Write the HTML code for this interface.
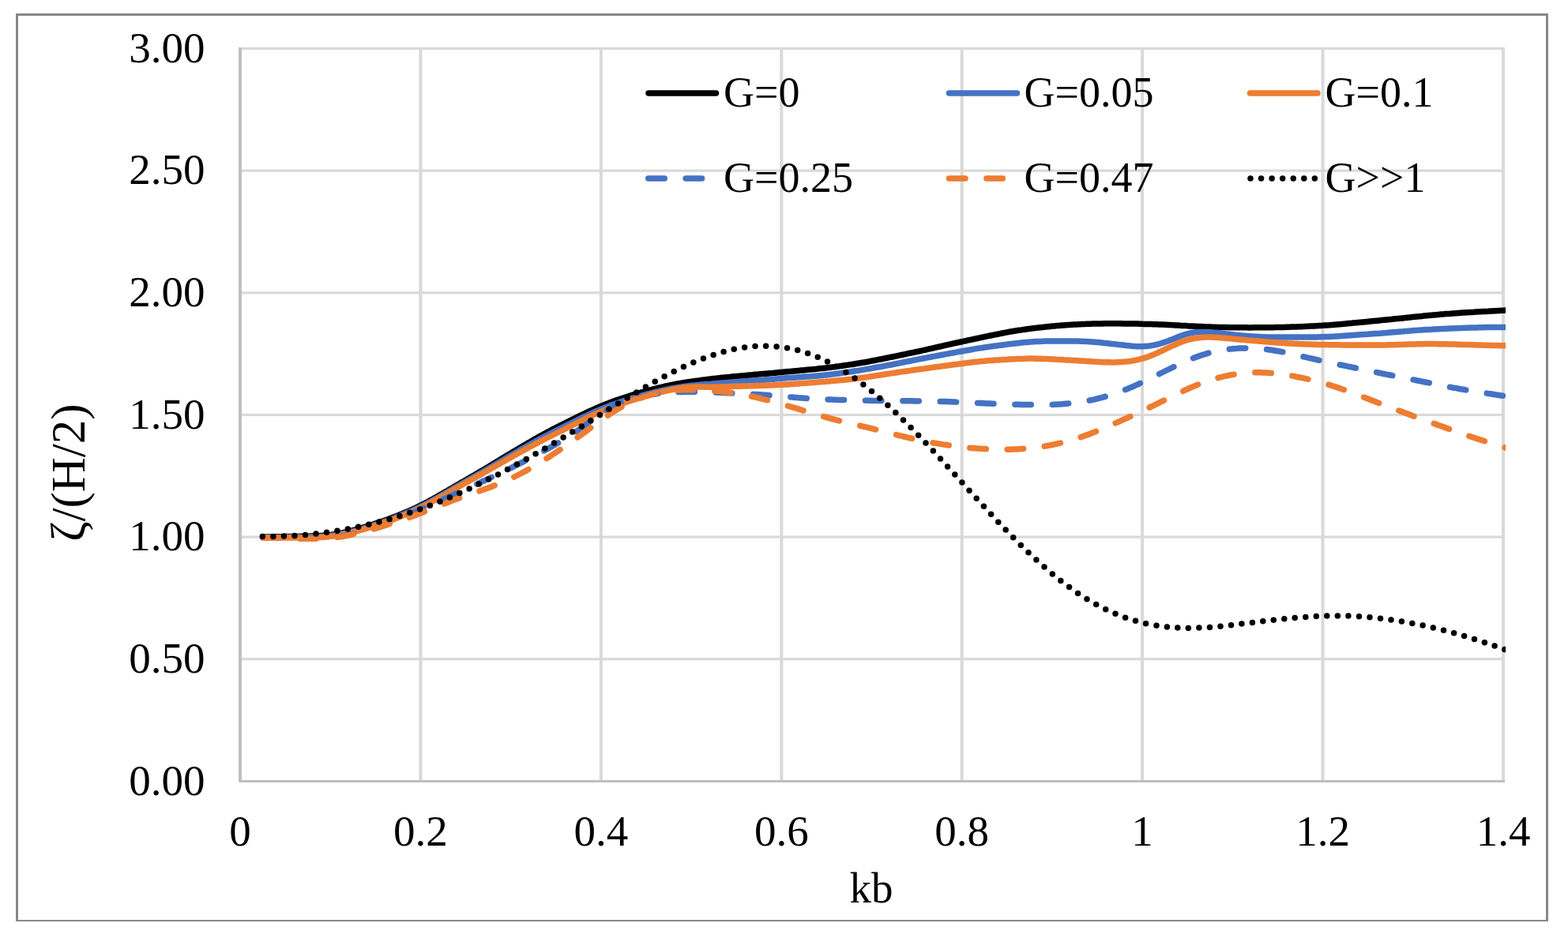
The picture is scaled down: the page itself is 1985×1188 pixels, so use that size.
<!DOCTYPE html>
<html><head><meta charset="utf-8"><title>chart</title>
<style>
html,body{margin:0;padding:0;background:#fff;}
body{width:1985px;height:1188px;overflow:hidden;position:relative;}
.frame{position:absolute;left:20px;top:17px;width:1934px;height:1145px;border:3px solid #888;border-bottom-width:2px;}
svg{position:absolute;left:0;top:0;}
text{font-family:"Liberation Serif","Times New Roman",serif;font-size:55px;fill:#000;}
.lg{font-size:54px;}
</style></head><body>
<div class="frame"></div>
<svg width="1985" height="1188" viewBox="0 0 1985 1188">
<rect x="530.43" y="60.00" width="4" height="929.40" fill="#d9d9d9"/>
<rect x="758.86" y="60.00" width="4" height="929.40" fill="#d9d9d9"/>
<rect x="987.29" y="60.00" width="4" height="929.40" fill="#d9d9d9"/>
<rect x="1215.71" y="60.00" width="4" height="929.40" fill="#d9d9d9"/>
<rect x="1444.14" y="60.00" width="4" height="929.40" fill="#d9d9d9"/>
<rect x="1672.57" y="60.00" width="4" height="929.40" fill="#d9d9d9"/>
<rect x="1901.00" y="60.00" width="4" height="929.40" fill="#d9d9d9"/>
<rect x="304.00" y="833.15" width="1601.00" height="3.2" fill="#d9d9d9"/>
<rect x="304.00" y="678.50" width="1601.00" height="3.2" fill="#d9d9d9"/>
<rect x="304.00" y="523.85" width="1601.00" height="3.2" fill="#d9d9d9"/>
<rect x="304.00" y="369.20" width="1601.00" height="3.2" fill="#d9d9d9"/>
<rect x="304.00" y="214.55" width="1601.00" height="3.2" fill="#d9d9d9"/>
<rect x="304.00" y="59.90" width="1601.00" height="3.2" fill="#d9d9d9"/>
<rect x="302" y="60.00" width="4" height="930.40" fill="#bfbfbf"/>
<rect x="303" y="988" width="1602.00" height="3" fill="#bfbfbf"/>
<text x="259.5" y="1006.5" text-anchor="end">0.00</text>
<text x="259.5" y="851.9" text-anchor="end">0.50</text>
<text x="259.5" y="697.2" text-anchor="end">1.00</text>
<text x="259.5" y="542.6" text-anchor="end">1.50</text>
<text x="259.5" y="387.9" text-anchor="end">2.00</text>
<text x="259.5" y="233.2" text-anchor="end">2.50</text>
<text x="259.5" y="78.6" text-anchor="end">3.00</text>
<text x="304.0" y="1070.5" text-anchor="middle">0</text>
<text x="532.4" y="1070.5" text-anchor="middle">0.2</text>
<text x="760.9" y="1070.5" text-anchor="middle">0.4</text>
<text x="989.3" y="1070.5" text-anchor="middle">0.6</text>
<text x="1217.7" y="1070.5" text-anchor="middle">0.8</text>
<text x="1446.1" y="1070.5" text-anchor="middle">1</text>
<text x="1674.6" y="1070.5" text-anchor="middle">1.2</text>
<text x="1903.0" y="1070.5" text-anchor="middle">1.4</text>
<text x="1103" y="1143" text-anchor="middle">kb</text>
<text transform="translate(106.5,598.6) rotate(-90)" text-anchor="middle" style="font-size:61px">ζ/(H/2)</text>
<line x1="821" y1="118" x2="906.5" y2="118" stroke="#000" stroke-width="7.5" stroke-linecap="round"/>
<line x1="1201.5" y1="118" x2="1287.5" y2="118" stroke="#4472c4" stroke-width="7.5" stroke-linecap="round"/>
<line x1="1582.5" y1="118" x2="1668" y2="118" stroke="#ed7d31" stroke-width="7.5" stroke-linecap="round"/>
<line x1="820.75" y1="226" x2="890" y2="226" stroke="#4472c4" stroke-width="7.5" stroke-linecap="round" stroke-dasharray="20.5 26.88"/>
<line x1="1201.5" y1="226" x2="1271" y2="226" stroke="#ed7d31" stroke-width="7.5" stroke-linecap="round" stroke-dasharray="20.5 26.88"/>
<line x1="1583" y1="226" x2="1665" y2="226" stroke="#000" stroke-width="7.5" stroke-linecap="round" stroke-dasharray="0.01 13.55"/>
<text class="lg" x="916" y="135">G=0</text>
<text class="lg" x="1296.5" y="135">G=0.05</text>
<text class="lg" x="1677.5" y="135">G=0.1</text>
<text class="lg" x="916" y="243">G=0.25</text>
<text class="lg" x="1296.5" y="243">G=0.47</text>
<text class="lg" x="1677.5" y="243">G&gt;&gt;1</text>
<defs><clipPath id="pc"><rect x="290" y="40" width="1616" height="960"/></clipPath></defs><g clip-path="url(#pc)">
<path d="M332.9,680.0 C333.4,680.0 334.9,680.0 335.9,680.0 C336.9,679.9 337.9,679.9 338.9,679.9 C339.9,679.9 340.9,679.9 341.9,679.9 C342.9,679.9 343.9,679.9 344.9,679.8 C345.9,679.8 346.9,679.8 347.9,679.8 C348.9,679.8 349.9,679.8 350.9,679.8 C351.9,679.7 352.9,679.7 353.9,679.7 C354.9,679.7 355.9,679.7 356.9,679.7 C357.9,679.7 358.9,679.6 359.9,679.6 C360.9,679.6 361.9,679.6 362.9,679.6 C363.9,679.6 364.9,679.6 365.9,679.5 C366.9,679.5 367.9,679.5 368.9,679.5 C369.9,679.5 370.9,679.5 371.9,679.5 C372.9,679.4 373.9,679.4 374.9,679.4 C375.9,679.4 376.9,679.4 377.9,679.4 C378.9,679.4 379.9,679.3 380.9,679.3 C381.9,679.3 382.9,679.3 383.9,679.3 C384.9,679.3 385.9,679.2 386.9,679.2 C387.9,679.2 388.9,679.2 389.9,679.2 C390.9,679.1 391.9,679.1 392.9,679.1 C393.9,679.1 394.9,679.0 395.9,679.0 C396.9,679.0 397.9,678.9 398.9,678.9 C399.9,678.8 400.9,678.8 401.9,678.7 C402.9,678.7 403.9,678.6 404.9,678.6 C405.9,678.5 406.9,678.5 407.9,678.4 C408.9,678.3 409.9,678.2 410.9,678.1 C411.9,678.1 412.9,678.0 413.9,677.9 C414.9,677.8 415.9,677.7 416.9,677.6 C417.9,677.4 418.9,677.3 419.9,677.2 C420.9,677.0 421.9,676.9 422.9,676.8 C423.9,676.6 424.9,676.4 425.9,676.3 C426.9,676.1 427.9,675.9 428.9,675.8 C429.9,675.6 430.9,675.4 431.9,675.2 C432.9,675.0 433.9,674.8 434.9,674.5 C435.9,674.3 436.9,674.1 437.9,673.9 C438.9,673.6 439.9,673.4 440.9,673.1 C441.9,672.9 442.9,672.7 443.9,672.4 C444.9,672.2 445.9,671.9 446.9,671.6 C447.9,671.4 448.9,671.1 449.9,670.8 C450.9,670.6 451.9,670.3 452.9,670.0 C453.9,669.7 454.9,669.5 455.9,669.2 C456.9,668.9 457.9,668.6 458.9,668.3 C459.9,668.0 460.9,667.7 461.9,667.4 C462.9,667.1 463.9,666.8 464.9,666.5 C465.9,666.2 466.9,665.9 467.9,665.6 C468.9,665.3 469.9,665.0 470.9,664.6 C471.9,664.3 472.9,664.0 473.9,663.7 C474.9,663.3 475.9,663.0 476.9,662.7 C477.9,662.3 478.9,662.0 479.9,661.7 C480.9,661.3 481.9,661.0 482.9,660.6 C483.9,660.3 484.9,659.9 485.9,659.6 C486.9,659.2 487.9,658.9 488.9,658.5 C489.9,658.1 490.9,657.8 491.9,657.4 C492.9,657.0 493.9,656.7 494.9,656.3 C495.9,655.9 496.9,655.5 497.9,655.1 C498.9,654.8 499.9,654.4 500.9,654.0 C501.9,653.6 502.9,653.2 503.9,652.8 C504.9,652.4 505.9,652.0 506.9,651.6 C507.9,651.2 508.9,650.8 509.9,650.4 C510.9,650.0 511.9,649.5 512.9,649.1 C513.9,648.7 514.9,648.3 515.9,647.8 C516.9,647.4 517.9,647.0 518.9,646.5 C519.9,646.1 520.9,645.6 521.9,645.2 C522.9,644.7 523.9,644.3 524.9,643.8 C525.9,643.3 526.9,642.8 527.9,642.4 C528.9,641.9 529.9,641.4 530.9,640.9 C531.9,640.4 532.9,639.9 533.9,639.4 C534.9,638.9 535.9,638.4 536.9,637.9 C537.9,637.4 538.9,636.9 539.9,636.3 C540.9,635.8 541.9,635.3 542.9,634.7 C543.9,634.2 544.9,633.6 545.9,633.1 C546.9,632.6 547.9,632.0 548.9,631.4 C549.9,630.9 550.9,630.3 551.9,629.8 C552.9,629.2 553.9,628.6 554.9,628.0 C555.9,627.5 556.9,626.9 557.9,626.3 C558.9,625.7 559.9,625.2 560.9,624.6 C561.9,624.0 562.9,623.4 563.9,622.8 C564.9,622.3 565.9,621.7 566.9,621.1 C567.9,620.5 568.9,619.9 569.9,619.3 C570.9,618.8 571.9,618.2 572.9,617.6 C573.9,617.0 574.9,616.4 575.9,615.9 C576.9,615.3 577.9,614.7 578.9,614.1 C579.9,613.6 580.9,613.0 581.9,612.4 C582.9,611.8 583.9,611.2 584.9,610.7 C585.9,610.1 586.9,609.5 587.9,609.0 C588.9,608.4 589.9,607.8 590.9,607.2 C591.9,606.7 592.9,606.1 593.9,605.5 C594.9,604.9 595.9,604.4 596.9,603.8 C597.9,603.2 598.9,602.6 599.9,602.0 C600.9,601.5 601.9,600.9 602.9,600.3 C603.9,599.7 604.9,599.1 605.9,598.5 C606.9,597.9 607.9,597.4 608.9,596.8 C609.9,596.2 610.9,595.6 611.9,595.0 C612.9,594.4 613.9,593.8 614.9,593.2 C615.9,592.6 616.9,592.0 617.9,591.4 C618.9,590.8 619.9,590.2 620.9,589.5 C621.9,588.9 622.9,588.3 623.9,587.7 C624.9,587.1 625.9,586.5 626.9,585.9 C627.9,585.3 628.9,584.7 629.9,584.1 C630.9,583.5 631.9,582.9 632.9,582.2 C633.9,581.6 634.9,581.0 635.9,580.4 C636.9,579.8 637.9,579.2 638.9,578.6 C639.9,578.0 640.9,577.4 641.9,576.8 C642.9,576.2 643.9,575.6 644.9,575.0 C645.9,574.4 646.9,573.8 647.9,573.2 C648.9,572.6 649.9,572.0 650.9,571.4 C651.9,570.8 652.9,570.2 653.9,569.6 C654.9,569.0 655.9,568.4 656.9,567.8 C657.9,567.2 658.9,566.7 659.9,566.1 C660.9,565.5 661.9,564.9 662.9,564.3 C663.9,563.7 664.9,563.2 665.9,562.6 C666.9,562.0 667.9,561.4 668.9,560.8 C669.9,560.3 670.9,559.7 671.9,559.1 C672.9,558.5 673.9,558.0 674.9,557.4 C675.9,556.8 676.9,556.2 677.9,555.7 C678.9,555.1 679.9,554.5 680.9,554.0 C681.9,553.4 682.9,552.9 683.9,552.3 C684.9,551.7 685.9,551.2 686.9,550.6 C687.9,550.1 688.9,549.5 689.9,549.0 C690.9,548.5 691.9,547.9 692.9,547.4 C693.9,546.8 694.9,546.3 695.9,545.8 C696.9,545.3 697.9,544.7 698.9,544.2 C699.9,543.7 700.9,543.2 701.9,542.7 C702.9,542.1 703.9,541.6 704.9,541.1 C705.9,540.6 706.9,540.1 707.9,539.6 C708.9,539.1 709.9,538.6 710.9,538.1 C711.9,537.6 712.9,537.1 713.9,536.6 C714.9,536.1 715.9,535.6 716.9,535.1 C717.9,534.6 718.9,534.1 719.9,533.6 C720.9,533.1 721.9,532.6 722.9,532.1 C723.9,531.6 724.9,531.1 725.9,530.6 C726.9,530.1 727.9,529.6 728.9,529.1 C729.9,528.6 730.9,528.1 731.9,527.7 C732.9,527.2 733.9,526.7 734.9,526.2 C735.9,525.7 736.9,525.3 737.9,524.8 C738.9,524.3 739.9,523.8 740.9,523.4 C741.9,522.9 742.9,522.4 743.9,522.0 C744.9,521.5 745.9,521.0 746.9,520.6 C747.9,520.1 748.9,519.7 749.9,519.2 C750.9,518.8 751.9,518.3 752.9,517.9 C753.9,517.4 754.9,517.0 755.9,516.6 C756.9,516.1 757.9,515.7 758.9,515.3 C759.9,514.9 760.9,514.4 761.9,514.0 C762.9,513.6 763.9,513.2 764.9,512.8 C765.9,512.4 766.9,512.0 767.9,511.6 C768.9,511.2 769.9,510.8 770.9,510.4 C771.9,510.0 772.9,509.7 773.9,509.3 C774.9,508.9 775.9,508.5 776.9,508.2 C777.9,507.8 778.9,507.5 779.9,507.1 C780.9,506.7 781.9,506.4 782.9,506.1 C783.9,505.7 784.9,505.4 785.9,505.0 C786.9,504.7 787.9,504.3 788.9,504.0 C789.9,503.7 790.9,503.4 791.9,503.0 C792.9,502.7 793.9,502.4 794.9,502.1 C795.9,501.8 796.9,501.5 797.9,501.1 C798.9,500.8 799.9,500.5 800.9,500.2 C801.9,499.9 802.9,499.6 803.9,499.3 C804.9,499.0 805.9,498.7 806.9,498.4 C807.9,498.2 808.9,497.9 809.9,497.6 C810.9,497.3 811.9,497.0 812.9,496.7 C813.9,496.4 814.9,496.2 815.9,495.9 C816.9,495.6 817.9,495.3 818.9,495.0 C819.9,494.8 820.9,494.5 821.9,494.2 C822.9,494.0 823.9,493.7 824.9,493.4 C825.9,493.2 826.9,492.9 827.9,492.6 C828.9,492.4 829.9,492.1 830.9,491.9 C831.9,491.6 832.9,491.4 833.9,491.1 C834.9,490.9 835.9,490.6 836.9,490.4 C837.9,490.2 838.9,489.9 839.9,489.7 C840.9,489.5 841.9,489.2 842.9,489.0 C843.9,488.8 844.9,488.6 845.9,488.4 C846.9,488.1 847.9,487.9 848.9,487.7 C849.9,487.5 850.9,487.3 851.9,487.1 C852.9,486.9 853.9,486.7 854.9,486.6 C855.9,486.4 856.9,486.2 857.9,486.0 C858.9,485.8 859.9,485.7 860.9,485.5 C861.9,485.3 862.9,485.2 863.9,485.0 C864.9,484.8 865.9,484.7 866.9,484.5 C867.9,484.4 868.9,484.2 869.9,484.0 C870.9,483.9 871.9,483.7 872.9,483.6 C873.9,483.4 874.9,483.3 875.9,483.1 C876.9,483.0 877.9,482.9 878.9,482.7 C879.9,482.6 880.9,482.4 881.9,482.3 C882.9,482.2 883.9,482.0 884.9,481.9 C885.9,481.7 886.9,481.6 887.9,481.5 C888.9,481.3 889.9,481.2 890.9,481.1 C891.9,480.9 892.9,480.8 893.9,480.7 C894.9,480.6 895.9,480.4 896.9,480.3 C897.9,480.2 898.9,480.1 899.9,479.9 C900.9,479.8 901.9,479.7 902.9,479.6 C903.9,479.5 904.9,479.4 905.9,479.2 C906.9,479.1 907.9,479.0 908.9,478.9 C909.9,478.8 910.9,478.7 911.9,478.6 C912.9,478.5 913.9,478.4 914.9,478.3 C915.9,478.2 916.9,478.1 917.9,478.0 C918.9,477.9 919.9,477.8 920.9,477.7 C921.9,477.6 922.9,477.5 923.9,477.4 C924.9,477.3 925.9,477.2 926.9,477.1 C927.9,477.0 928.9,476.9 929.9,476.8 C930.9,476.7 931.9,476.6 932.9,476.5 C933.9,476.4 934.9,476.4 935.9,476.3 C936.9,476.2 937.9,476.1 938.9,476.0 C939.9,475.9 940.9,475.8 941.9,475.7 C942.9,475.6 943.9,475.5 944.9,475.4 C945.9,475.3 946.9,475.2 947.9,475.1 C948.9,475.0 949.9,475.0 950.9,474.9 C951.9,474.8 952.9,474.7 953.9,474.6 C954.9,474.5 955.9,474.4 956.9,474.3 C957.9,474.2 958.9,474.1 959.9,474.1 C960.9,474.0 961.9,473.9 962.9,473.8 C963.9,473.7 964.9,473.6 965.9,473.5 C966.9,473.4 967.9,473.3 968.9,473.2 C969.9,473.2 970.9,473.1 971.9,473.0 C972.9,472.9 973.9,472.8 974.9,472.7 C975.9,472.6 976.9,472.5 977.9,472.5 C978.9,472.4 979.9,472.3 980.9,472.2 C981.9,472.1 982.9,472.0 983.9,471.9 C984.9,471.8 985.9,471.7 986.9,471.6 C987.9,471.6 988.9,471.5 989.9,471.4 C990.9,471.3 991.9,471.2 992.9,471.1 C993.9,471.0 994.9,470.9 995.9,470.8 C996.9,470.7 997.9,470.6 998.9,470.5 C999.9,470.4 1000.9,470.4 1001.9,470.3 C1002.9,470.2 1003.9,470.1 1004.9,470.0 C1005.9,469.9 1006.9,469.8 1007.9,469.7 C1008.9,469.6 1009.9,469.5 1010.9,469.4 C1011.9,469.3 1012.9,469.2 1013.9,469.1 C1014.9,469.0 1015.9,469.0 1016.9,468.9 C1017.9,468.8 1018.9,468.7 1019.9,468.6 C1020.9,468.5 1021.9,468.4 1022.9,468.3 C1023.9,468.2 1024.9,468.1 1025.9,468.0 C1026.9,467.9 1027.9,467.8 1028.9,467.8 C1029.9,467.7 1030.9,467.6 1031.9,467.5 C1032.9,467.4 1033.9,467.3 1034.9,467.1 C1035.9,467.0 1036.9,466.9 1037.9,466.8 C1038.9,466.7 1039.9,466.6 1040.9,466.5 C1041.9,466.4 1042.9,466.3 1043.9,466.2 C1044.9,466.1 1045.9,465.9 1046.9,465.8 C1047.9,465.7 1048.9,465.6 1049.9,465.4 C1050.9,465.3 1051.9,465.2 1052.9,465.1 C1053.9,465.0 1054.9,464.8 1055.9,464.7 C1056.9,464.6 1057.9,464.4 1058.9,464.3 C1059.9,464.1 1060.9,464.0 1061.9,463.9 C1062.9,463.7 1063.9,463.6 1064.9,463.4 C1065.9,463.3 1066.9,463.2 1067.9,463.0 C1068.9,462.9 1069.9,462.7 1070.9,462.6 C1071.9,462.4 1072.9,462.3 1073.9,462.1 C1074.9,462.0 1075.9,461.8 1076.9,461.7 C1077.9,461.5 1078.9,461.4 1079.9,461.2 C1080.9,461.0 1081.9,460.9 1082.9,460.7 C1083.9,460.6 1084.9,460.4 1085.9,460.2 C1086.9,460.1 1087.9,459.9 1088.9,459.7 C1089.9,459.6 1090.9,459.4 1091.9,459.2 C1092.9,459.0 1093.9,458.9 1094.9,458.7 C1095.9,458.5 1096.9,458.3 1097.9,458.2 C1098.9,458.0 1099.9,457.8 1100.9,457.6 C1101.9,457.4 1102.9,457.2 1103.9,457.1 C1104.9,456.9 1105.9,456.7 1106.9,456.5 C1107.9,456.3 1108.9,456.1 1109.9,455.9 C1110.9,455.7 1111.9,455.5 1112.9,455.3 C1113.9,455.1 1114.9,454.9 1115.9,454.7 C1116.9,454.5 1117.9,454.3 1118.9,454.1 C1119.9,453.9 1120.9,453.7 1121.9,453.5 C1122.9,453.3 1123.9,453.1 1124.9,452.9 C1125.9,452.7 1126.9,452.5 1127.9,452.3 C1128.9,452.1 1129.9,451.9 1130.9,451.7 C1131.9,451.5 1132.9,451.3 1133.9,451.1 C1134.9,450.9 1135.9,450.7 1136.9,450.5 C1137.9,450.3 1138.9,450.0 1139.9,449.8 C1140.9,449.6 1141.9,449.4 1142.9,449.2 C1143.9,449.0 1144.9,448.8 1145.9,448.6 C1146.9,448.4 1147.9,448.2 1148.9,447.9 C1149.9,447.7 1150.9,447.5 1151.9,447.3 C1152.9,447.1 1153.9,446.9 1154.9,446.7 C1155.9,446.5 1156.9,446.2 1157.9,446.0 C1158.9,445.8 1159.9,445.6 1160.9,445.4 C1161.9,445.2 1162.9,444.9 1163.9,444.7 C1164.9,444.5 1165.9,444.3 1166.9,444.1 C1167.9,443.8 1168.9,443.6 1169.9,443.4 C1170.9,443.2 1171.9,442.9 1172.9,442.7 C1173.9,442.5 1174.9,442.3 1175.9,442.0 C1176.9,441.8 1177.9,441.6 1178.9,441.4 C1179.9,441.1 1180.9,440.9 1181.9,440.7 C1182.9,440.5 1183.9,440.2 1184.9,440.0 C1185.9,439.8 1186.9,439.6 1187.9,439.3 C1188.9,439.1 1189.9,438.9 1190.9,438.7 C1191.9,438.4 1192.9,438.2 1193.9,438.0 C1194.9,437.8 1195.9,437.5 1196.9,437.3 C1197.9,437.1 1198.9,436.9 1199.9,436.6 C1200.9,436.4 1201.9,436.2 1202.9,436.0 C1203.9,435.8 1204.9,435.5 1205.9,435.3 C1206.9,435.1 1207.9,434.9 1208.9,434.6 C1209.9,434.4 1210.9,434.2 1211.9,434.0 C1212.9,433.8 1213.9,433.6 1214.9,433.3 C1215.9,433.1 1216.9,432.9 1217.9,432.7 C1218.9,432.5 1219.9,432.3 1220.9,432.0 C1221.9,431.8 1222.9,431.6 1223.9,431.4 C1224.9,431.2 1225.9,431.0 1226.9,430.7 C1227.9,430.5 1228.9,430.3 1229.9,430.1 C1230.9,429.9 1231.9,429.7 1232.9,429.5 C1233.9,429.2 1234.9,429.0 1235.9,428.8 C1236.9,428.6 1237.9,428.4 1238.9,428.2 C1239.9,428.0 1240.9,427.8 1241.9,427.5 C1242.9,427.3 1243.9,427.1 1244.9,426.9 C1245.9,426.7 1246.9,426.5 1247.9,426.3 C1248.9,426.1 1249.9,425.8 1250.9,425.6 C1251.9,425.4 1252.9,425.2 1253.9,425.0 C1254.9,424.8 1255.9,424.6 1256.9,424.4 C1257.9,424.2 1258.9,424.0 1259.9,423.8 C1260.9,423.6 1261.9,423.4 1262.9,423.2 C1263.9,423.0 1264.9,422.8 1265.9,422.6 C1266.9,422.4 1267.9,422.2 1268.9,422.0 C1269.9,421.8 1270.9,421.6 1271.9,421.4 C1272.9,421.3 1273.9,421.1 1274.9,420.9 C1275.9,420.7 1276.9,420.5 1277.9,420.3 C1278.9,420.2 1279.9,420.0 1280.9,419.8 C1281.9,419.6 1282.9,419.5 1283.9,419.3 C1284.9,419.1 1285.9,419.0 1286.9,418.8 C1287.9,418.7 1288.9,418.5 1289.9,418.3 C1290.9,418.2 1291.9,418.0 1292.9,417.9 C1293.9,417.7 1294.9,417.6 1295.9,417.4 C1296.9,417.3 1297.9,417.1 1298.9,417.0 C1299.9,416.9 1300.9,416.7 1301.9,416.6 C1302.9,416.5 1303.9,416.3 1304.9,416.2 C1305.9,416.0 1306.9,415.9 1307.9,415.8 C1308.9,415.7 1309.9,415.5 1310.9,415.4 C1311.9,415.3 1312.9,415.2 1313.9,415.1 C1314.9,414.9 1315.9,414.8 1316.9,414.7 C1317.9,414.6 1318.9,414.5 1319.9,414.4 C1320.9,414.3 1321.9,414.2 1322.9,414.1 C1323.9,413.9 1324.9,413.8 1325.9,413.7 C1326.9,413.6 1327.9,413.5 1328.9,413.4 C1329.9,413.3 1330.9,413.2 1331.9,413.1 C1332.9,413.1 1333.9,413.0 1334.9,412.9 C1335.9,412.8 1336.9,412.7 1337.9,412.6 C1338.9,412.5 1339.9,412.4 1340.9,412.4 C1341.9,412.3 1342.9,412.2 1343.9,412.1 C1344.9,412.1 1345.9,412.0 1346.9,411.9 C1347.9,411.8 1348.9,411.8 1349.9,411.7 C1350.9,411.6 1351.9,411.6 1352.9,411.5 C1353.9,411.4 1354.9,411.4 1355.9,411.3 C1356.9,411.2 1357.9,411.2 1358.9,411.1 C1359.9,411.1 1360.9,411.0 1361.9,411.0 C1362.9,410.9 1363.9,410.9 1364.9,410.8 C1365.9,410.8 1366.9,410.7 1367.9,410.7 C1368.9,410.6 1369.9,410.6 1370.9,410.5 C1371.9,410.5 1372.9,410.4 1373.9,410.4 C1374.9,410.4 1375.9,410.3 1376.9,410.3 C1377.9,410.3 1378.9,410.2 1379.9,410.2 C1380.9,410.2 1381.9,410.1 1382.9,410.1 C1383.9,410.1 1384.9,410.1 1385.9,410.1 C1386.9,410.0 1387.9,410.0 1388.9,410.0 C1389.9,410.0 1390.9,409.9 1391.9,409.9 C1392.9,409.9 1393.9,409.9 1394.9,409.9 C1395.9,409.9 1396.9,409.9 1397.9,409.8 C1398.9,409.8 1399.9,409.8 1400.9,409.8 C1401.9,409.8 1402.9,409.8 1403.9,409.8 C1404.9,409.8 1405.9,409.8 1406.9,409.8 C1407.9,409.8 1408.9,409.8 1409.9,409.8 C1410.9,409.8 1411.9,409.8 1412.9,409.8 C1413.9,409.8 1414.9,409.8 1415.9,409.8 C1416.9,409.8 1417.9,409.8 1418.9,409.8 C1419.9,409.8 1420.9,409.8 1421.9,409.9 C1422.9,409.9 1423.9,409.9 1424.9,409.9 C1425.9,409.9 1426.9,409.9 1427.9,409.9 C1428.9,409.9 1429.9,410.0 1430.9,410.0 C1431.9,410.0 1432.9,410.0 1433.9,410.0 C1434.9,410.0 1435.9,410.1 1436.9,410.1 C1437.9,410.1 1438.9,410.1 1439.9,410.1 C1440.9,410.2 1441.9,410.2 1442.9,410.2 C1443.9,410.2 1444.9,410.2 1445.9,410.3 C1446.9,410.3 1447.9,410.3 1448.9,410.4 C1449.9,410.4 1450.9,410.4 1451.9,410.4 C1452.9,410.4 1453.9,410.5 1454.9,410.5 C1455.9,410.5 1456.9,410.6 1457.9,410.6 C1458.9,410.6 1459.9,410.7 1460.9,410.7 C1461.9,410.7 1462.9,410.7 1463.9,410.8 C1464.9,410.8 1465.9,410.9 1466.9,410.9 C1467.9,410.9 1468.9,411.0 1469.9,411.0 C1470.9,411.1 1471.9,411.1 1472.9,411.1 C1473.9,411.2 1474.9,411.2 1475.9,411.3 C1476.9,411.3 1477.9,411.4 1478.9,411.4 C1479.9,411.4 1480.9,411.5 1481.9,411.6 C1482.9,411.6 1483.9,411.6 1484.9,411.7 C1485.9,411.8 1486.9,411.8 1487.9,411.9 C1488.9,411.9 1489.9,412.0 1490.9,412.0 C1491.9,412.1 1492.9,412.1 1493.9,412.2 C1494.9,412.2 1495.9,412.3 1496.9,412.4 C1497.9,412.4 1498.9,412.5 1499.9,412.5 C1500.9,412.6 1501.9,412.6 1502.9,412.7 C1503.9,412.7 1504.9,412.8 1505.9,412.9 C1506.9,412.9 1507.9,413.0 1508.9,413.0 C1509.9,413.1 1510.9,413.1 1511.9,413.2 C1512.9,413.2 1513.9,413.3 1514.9,413.3 C1515.9,413.4 1516.9,413.4 1517.9,413.5 C1518.9,413.5 1519.9,413.6 1520.9,413.6 C1521.9,413.7 1522.9,413.7 1523.9,413.8 C1524.9,413.8 1525.9,413.8 1526.9,413.9 C1527.9,413.9 1528.9,413.9 1529.9,414.0 C1530.9,414.0 1531.9,414.1 1532.9,414.1 C1533.9,414.1 1534.9,414.2 1535.9,414.2 C1536.9,414.2 1537.9,414.3 1538.9,414.3 C1539.9,414.3 1540.9,414.3 1541.9,414.4 C1542.9,414.4 1543.9,414.4 1544.9,414.4 C1545.9,414.5 1546.9,414.5 1547.9,414.5 C1548.9,414.5 1549.9,414.5 1550.9,414.6 C1551.9,414.6 1552.9,414.6 1553.9,414.6 C1554.9,414.6 1555.9,414.6 1556.9,414.7 C1557.9,414.7 1558.9,414.7 1559.9,414.7 C1560.9,414.7 1561.9,414.7 1562.9,414.7 C1563.9,414.8 1564.9,414.8 1565.9,414.8 C1566.9,414.8 1567.9,414.8 1568.9,414.8 C1569.9,414.8 1570.9,414.8 1571.9,414.8 C1572.9,414.8 1573.9,414.8 1574.9,414.8 C1575.9,414.8 1576.9,414.8 1577.9,414.8 C1578.9,414.8 1579.9,414.8 1580.9,414.9 C1581.9,414.9 1582.9,414.9 1583.9,414.9 C1584.9,414.8 1585.9,414.8 1586.9,414.8 C1587.9,414.8 1588.9,414.8 1589.9,414.8 C1590.9,414.8 1591.9,414.8 1592.9,414.8 C1593.9,414.8 1594.9,414.8 1595.9,414.8 C1596.9,414.8 1597.9,414.8 1598.9,414.8 C1599.9,414.8 1600.9,414.8 1601.9,414.8 C1602.9,414.8 1603.9,414.7 1604.9,414.7 C1605.9,414.7 1606.9,414.7 1607.9,414.7 C1608.9,414.7 1609.9,414.7 1610.9,414.7 C1611.9,414.7 1612.9,414.6 1613.9,414.6 C1614.9,414.6 1615.9,414.6 1616.9,414.6 C1617.9,414.6 1618.9,414.5 1619.9,414.5 C1620.9,414.5 1621.9,414.5 1622.9,414.5 C1623.9,414.4 1624.9,414.4 1625.9,414.4 C1626.9,414.4 1627.9,414.3 1628.9,414.3 C1629.9,414.3 1630.9,414.3 1631.9,414.2 C1632.9,414.2 1633.9,414.2 1634.9,414.1 C1635.9,414.1 1636.9,414.1 1637.9,414.1 C1638.9,414.0 1639.9,414.0 1640.9,413.9 C1641.9,413.9 1642.9,413.9 1643.9,413.8 C1644.9,413.8 1645.9,413.7 1646.9,413.7 C1647.9,413.7 1648.9,413.6 1649.9,413.6 C1650.9,413.5 1651.9,413.5 1652.9,413.4 C1653.9,413.4 1654.9,413.3 1655.9,413.3 C1656.9,413.3 1657.9,413.2 1658.9,413.1 C1659.9,413.1 1660.9,413.1 1661.9,413.0 C1662.9,412.9 1663.9,412.9 1664.9,412.8 C1665.9,412.8 1666.9,412.7 1667.9,412.7 C1668.9,412.6 1669.9,412.6 1670.9,412.5 C1671.9,412.4 1672.9,412.4 1673.9,412.3 C1674.9,412.2 1675.9,412.2 1676.9,412.1 C1677.9,412.0 1678.9,412.0 1679.9,411.9 C1680.9,411.8 1681.9,411.7 1682.9,411.7 C1683.9,411.6 1684.9,411.5 1685.9,411.4 C1686.9,411.4 1687.9,411.3 1688.9,411.2 C1689.9,411.1 1690.9,411.0 1691.9,410.9 C1692.9,410.9 1693.9,410.8 1694.9,410.7 C1695.9,410.6 1696.9,410.5 1697.9,410.4 C1698.9,410.4 1699.9,410.3 1700.9,410.2 C1701.9,410.1 1702.9,410.0 1703.9,409.9 C1704.9,409.8 1705.9,409.7 1706.9,409.6 C1707.9,409.6 1708.9,409.5 1709.9,409.4 C1710.9,409.3 1711.9,409.2 1712.9,409.1 C1713.9,409.0 1714.9,408.9 1715.9,408.8 C1716.9,408.7 1717.9,408.7 1718.9,408.6 C1719.9,408.5 1720.9,408.4 1721.9,408.3 C1722.9,408.2 1723.9,408.1 1724.9,408.0 C1725.9,407.9 1726.9,407.8 1727.9,407.7 C1728.9,407.6 1729.9,407.5 1730.9,407.4 C1731.9,407.3 1732.9,407.2 1733.9,407.1 C1734.9,407.0 1735.9,406.9 1736.9,406.8 C1737.9,406.7 1738.9,406.6 1739.9,406.5 C1740.9,406.4 1741.9,406.3 1742.9,406.2 C1743.9,406.1 1744.9,406.0 1745.9,405.9 C1746.9,405.8 1747.9,405.7 1748.9,405.6 C1749.9,405.5 1750.9,405.4 1751.9,405.3 C1752.9,405.2 1753.9,405.1 1754.9,405.0 C1755.9,404.9 1756.9,404.8 1757.9,404.7 C1758.9,404.6 1759.9,404.5 1760.9,404.4 C1761.9,404.3 1762.9,404.2 1763.9,404.1 C1764.9,404.0 1765.9,403.9 1766.9,403.8 C1767.9,403.7 1768.9,403.6 1769.9,403.5 C1770.9,403.4 1771.9,403.3 1772.9,403.2 C1773.9,403.1 1774.9,403.0 1775.9,402.9 C1776.9,402.8 1777.9,402.7 1778.9,402.6 C1779.9,402.5 1780.9,402.4 1781.9,402.2 C1782.9,402.1 1783.9,402.0 1784.9,401.9 C1785.9,401.8 1786.9,401.7 1787.9,401.6 C1788.9,401.5 1789.9,401.4 1790.9,401.3 C1791.9,401.2 1792.9,401.1 1793.9,401.0 C1794.9,400.9 1795.9,400.8 1796.9,400.7 C1797.9,400.6 1798.9,400.5 1799.9,400.4 C1800.9,400.3 1801.9,400.2 1802.9,400.1 C1803.9,400.0 1804.9,399.9 1805.9,399.8 C1806.9,399.7 1807.9,399.6 1808.9,399.5 C1809.9,399.4 1810.9,399.3 1811.9,399.2 C1812.9,399.1 1813.9,399.1 1814.9,399.0 C1815.9,398.9 1816.9,398.8 1817.9,398.7 C1818.9,398.6 1819.9,398.5 1820.9,398.4 C1821.9,398.3 1822.9,398.2 1823.9,398.1 C1824.9,398.1 1825.9,398.0 1826.9,397.9 C1827.9,397.8 1828.9,397.7 1829.9,397.6 C1830.9,397.6 1831.9,397.5 1832.9,397.4 C1833.9,397.3 1834.9,397.2 1835.9,397.2 C1836.9,397.1 1837.9,397.0 1838.9,396.9 C1839.9,396.9 1840.9,396.8 1841.9,396.7 C1842.9,396.7 1843.9,396.6 1844.9,396.5 C1845.9,396.4 1846.9,396.4 1847.9,396.3 C1848.9,396.2 1849.9,396.2 1850.9,396.1 C1851.9,396.0 1852.9,396.0 1853.9,395.9 C1854.9,395.8 1855.9,395.8 1856.9,395.7 C1857.9,395.7 1858.9,395.6 1859.9,395.5 C1860.9,395.5 1861.9,395.4 1862.9,395.4 C1863.9,395.3 1864.9,395.2 1865.9,395.2 C1866.9,395.1 1867.9,395.1 1868.9,395.0 C1869.9,395.0 1870.9,394.9 1871.9,394.8 C1872.9,394.8 1873.9,394.7 1874.9,394.7 C1875.9,394.6 1876.9,394.6 1877.9,394.5 C1878.9,394.5 1879.9,394.4 1880.9,394.4 C1881.9,394.3 1882.9,394.2 1883.9,394.2 C1884.9,394.1 1885.9,394.1 1886.9,394.0 C1887.9,394.0 1888.9,393.9 1889.9,393.9 C1890.9,393.8 1891.9,393.8 1892.9,393.7 C1893.9,393.7 1894.9,393.6 1895.9,393.6 C1896.9,393.5 1897.9,393.5 1898.9,393.4 C1899.9,393.4 1900.9,393.3 1901.9,393.3 C1902.9,393.2 1903.9,393.2 1904.9,393.1 C1905.9,393.1 1907.1,393.0 1907.9,393.0 C1908.8,392.9 1909.7,392.9 1910.0,392.9" fill="none" stroke="#000" stroke-width="7.5" stroke-linecap="round" stroke-linejoin="round"/>
<path d="M332.9,680.5 C333.4,680.5 334.9,680.5 335.9,680.5 C336.9,680.5 337.9,680.5 338.9,680.5 C339.9,680.5 340.9,680.5 341.9,680.5 C342.9,680.5 343.9,680.4 344.9,680.4 C345.9,680.4 346.9,680.4 347.9,680.4 C348.9,680.4 349.9,680.4 350.9,680.4 C351.9,680.4 352.9,680.4 353.9,680.4 C354.9,680.4 355.9,680.4 356.9,680.4 C357.9,680.4 358.9,680.4 359.9,680.4 C360.9,680.3 361.9,680.3 362.9,680.3 C363.9,680.3 364.9,680.3 365.9,680.3 C366.9,680.3 367.9,680.3 368.9,680.3 C369.9,680.3 370.9,680.3 371.9,680.3 C372.9,680.3 373.9,680.3 374.9,680.3 C375.9,680.3 376.9,680.2 377.9,680.2 C378.9,680.2 379.9,680.2 380.9,680.2 C381.9,680.2 382.9,680.2 383.9,680.2 C384.9,680.2 385.9,680.2 386.9,680.1 C387.9,680.1 388.9,680.1 389.9,680.1 C390.9,680.1 391.9,680.1 392.9,680.0 C393.9,680.0 394.9,680.0 395.9,680.0 C396.9,679.9 397.9,679.9 398.9,679.9 C399.9,679.8 400.9,679.8 401.9,679.7 C402.9,679.7 403.9,679.6 404.9,679.6 C405.9,679.5 406.9,679.5 407.9,679.4 C408.9,679.3 409.9,679.2 410.9,679.2 C411.9,679.1 412.9,679.0 413.9,678.9 C414.9,678.8 415.9,678.7 416.9,678.6 C417.9,678.5 418.9,678.3 419.9,678.2 C420.9,678.1 421.9,677.9 422.9,677.8 C423.9,677.6 424.9,677.5 425.9,677.3 C426.9,677.1 427.9,677.0 428.9,676.8 C429.9,676.6 430.9,676.4 431.9,676.2 C432.9,676.0 433.9,675.8 434.9,675.6 C435.9,675.4 436.9,675.2 437.9,675.0 C438.9,674.7 439.9,674.5 440.9,674.3 C441.9,674.0 442.9,673.8 443.9,673.6 C444.9,673.3 445.9,673.1 446.9,672.8 C447.9,672.5 448.9,672.3 449.9,672.0 C450.9,671.7 451.9,671.5 452.9,671.2 C453.9,670.9 454.9,670.6 455.9,670.4 C456.9,670.1 457.9,669.8 458.9,669.5 C459.9,669.2 460.9,668.9 461.9,668.6 C462.9,668.3 463.9,668.0 464.9,667.7 C465.9,667.4 466.9,667.1 467.9,666.8 C468.9,666.5 469.9,666.2 470.9,665.9 C471.9,665.5 472.9,665.2 473.9,664.9 C474.9,664.6 475.9,664.2 476.9,663.9 C477.9,663.6 478.9,663.2 479.9,662.9 C480.9,662.6 481.9,662.2 482.9,661.9 C483.9,661.5 484.9,661.2 485.9,660.8 C486.9,660.5 487.9,660.1 488.9,659.8 C489.9,659.4 490.9,659.1 491.9,658.7 C492.9,658.3 493.9,658.0 494.9,657.6 C495.9,657.2 496.9,656.8 497.9,656.5 C498.9,656.1 499.9,655.7 500.9,655.3 C501.9,654.9 502.9,654.5 503.9,654.1 C504.9,653.7 505.9,653.3 506.9,652.9 C507.9,652.5 508.9,652.1 509.9,651.7 C510.9,651.3 511.9,650.9 512.9,650.5 C513.9,650.1 514.9,649.6 515.9,649.2 C516.9,648.8 517.9,648.3 518.9,647.9 C519.9,647.4 520.9,647.0 521.9,646.5 C522.9,646.1 523.9,645.6 524.9,645.2 C525.9,644.7 526.9,644.2 527.9,643.8 C528.9,643.3 529.9,642.8 530.9,642.3 C531.9,641.8 532.9,641.4 533.9,640.9 C534.9,640.4 535.9,639.8 536.9,639.3 C537.9,638.8 538.9,638.3 539.9,637.8 C540.9,637.3 541.9,636.7 542.9,636.2 C543.9,635.7 544.9,635.1 545.9,634.6 C546.9,634.0 547.9,633.5 548.9,632.9 C549.9,632.4 550.9,631.8 551.9,631.3 C552.9,630.7 553.9,630.2 554.9,629.6 C555.9,629.0 556.9,628.5 557.9,627.9 C558.9,627.3 559.9,626.7 560.9,626.2 C561.9,625.6 562.9,625.0 563.9,624.4 C564.9,623.9 565.9,623.3 566.9,622.7 C567.9,622.1 568.9,621.6 569.9,621.0 C570.9,620.4 571.9,619.8 572.9,619.2 C573.9,618.7 574.9,618.1 575.9,617.5 C576.9,617.0 577.9,616.4 578.9,615.8 C579.9,615.2 580.9,614.7 581.9,614.1 C582.9,613.5 583.9,612.9 584.9,612.4 C585.9,611.8 586.9,611.2 587.9,610.7 C588.9,610.1 589.9,609.5 590.9,609.0 C591.9,608.4 592.9,607.9 593.9,607.3 C594.9,606.7 595.9,606.2 596.9,605.6 C597.9,605.0 598.9,604.5 599.9,603.9 C600.9,603.3 601.9,602.8 602.9,602.2 C603.9,601.6 604.9,601.1 605.9,600.5 C606.9,599.9 607.9,599.3 608.9,598.8 C609.9,598.2 610.9,597.6 611.9,597.0 C612.9,596.5 613.9,595.9 614.9,595.3 C615.9,594.7 616.9,594.1 617.9,593.5 C618.9,593.0 619.9,592.4 620.9,591.8 C621.9,591.2 622.9,590.6 623.9,590.0 C624.9,589.4 625.9,588.9 626.9,588.3 C627.9,587.7 628.9,587.1 629.9,586.5 C630.9,585.9 631.9,585.3 632.9,584.7 C633.9,584.1 634.9,583.5 635.9,583.0 C636.9,582.4 637.9,581.8 638.9,581.2 C639.9,580.6 640.9,580.0 641.9,579.4 C642.9,578.8 643.9,578.3 644.9,577.7 C645.9,577.1 646.9,576.5 647.9,575.9 C648.9,575.3 649.9,574.8 650.9,574.2 C651.9,573.6 652.9,573.0 653.9,572.5 C654.9,571.9 655.9,571.3 656.9,570.7 C657.9,570.2 658.9,569.6 659.9,569.0 C660.9,568.4 661.9,567.9 662.9,567.3 C663.9,566.7 664.9,566.2 665.9,565.6 C666.9,565.1 667.9,564.5 668.9,563.9 C669.9,563.4 670.9,562.8 671.9,562.3 C672.9,561.7 673.9,561.1 674.9,560.6 C675.9,560.1 676.9,559.5 677.9,559.0 C678.9,558.4 679.9,557.9 680.9,557.3 C681.9,556.8 682.9,556.2 683.9,555.7 C684.9,555.2 685.9,554.6 686.9,554.1 C687.9,553.6 688.9,553.1 689.9,552.5 C690.9,552.0 691.9,551.5 692.9,551.0 C693.9,550.5 694.9,549.9 695.9,549.4 C696.9,548.9 697.9,548.4 698.9,547.9 C699.9,547.4 700.9,546.9 701.9,546.4 C702.9,545.8 703.9,545.3 704.9,544.8 C705.9,544.3 706.9,543.8 707.9,543.3 C708.9,542.8 709.9,542.3 710.9,541.8 C711.9,541.3 712.9,540.8 713.9,540.3 C714.9,539.8 715.9,539.3 716.9,538.8 C717.9,538.3 718.9,537.8 719.9,537.3 C720.9,536.8 721.9,536.3 722.9,535.8 C723.9,535.3 724.9,534.8 725.9,534.3 C726.9,533.8 727.9,533.3 728.9,532.8 C729.9,532.3 730.9,531.8 731.9,531.3 C732.9,530.8 733.9,530.3 734.9,529.9 C735.9,529.4 736.9,528.9 737.9,528.4 C738.9,527.9 739.9,527.5 740.9,527.0 C741.9,526.5 742.9,526.1 743.9,525.6 C744.9,525.1 745.9,524.7 746.9,524.2 C747.9,523.8 748.9,523.3 749.9,522.9 C750.9,522.4 751.9,522.0 752.9,521.6 C753.9,521.1 754.9,520.7 755.9,520.3 C756.9,519.8 757.9,519.4 758.9,519.0 C759.9,518.6 760.9,518.2 761.9,517.8 C762.9,517.4 763.9,517.0 764.9,516.6 C765.9,516.2 766.9,515.8 767.9,515.4 C768.9,515.0 769.9,514.6 770.9,514.2 C771.9,513.9 772.9,513.5 773.9,513.1 C774.9,512.8 775.9,512.4 776.9,512.0 C777.9,511.7 778.9,511.3 779.9,511.0 C780.9,510.6 781.9,510.3 782.9,509.9 C783.9,509.6 784.9,509.3 785.9,508.9 C786.9,508.6 787.9,508.3 788.9,507.9 C789.9,507.6 790.9,507.3 791.9,507.0 C792.9,506.7 793.9,506.4 794.9,506.1 C795.9,505.7 796.9,505.4 797.9,505.1 C798.9,504.8 799.9,504.5 800.9,504.2 C801.9,503.9 802.9,503.7 803.9,503.4 C804.9,503.1 805.9,502.8 806.9,502.5 C807.9,502.2 808.9,501.9 809.9,501.7 C810.9,501.4 811.9,501.1 812.9,500.9 C813.9,500.6 814.9,500.3 815.9,500.0 C816.9,499.8 817.9,499.5 818.9,499.2 C819.9,499.0 820.9,498.7 821.9,498.5 C822.9,498.2 823.9,498.0 824.9,497.7 C825.9,497.4 826.9,497.2 827.9,496.9 C828.9,496.7 829.9,496.5 830.9,496.2 C831.9,496.0 832.9,495.7 833.9,495.5 C834.9,495.3 835.9,495.0 836.9,494.8 C837.9,494.6 838.9,494.4 839.9,494.1 C840.9,493.9 841.9,493.7 842.9,493.5 C843.9,493.3 844.9,493.1 845.9,492.9 C846.9,492.7 847.9,492.5 848.9,492.3 C849.9,492.1 850.9,491.9 851.9,491.7 C852.9,491.5 853.9,491.4 854.9,491.2 C855.9,491.0 856.9,490.8 857.9,490.7 C858.9,490.5 859.9,490.4 860.9,490.2 C861.9,490.0 862.9,489.9 863.9,489.8 C864.9,489.6 865.9,489.5 866.9,489.3 C867.9,489.2 868.9,489.1 869.9,488.9 C870.9,488.8 871.9,488.7 872.9,488.6 C873.9,488.5 874.9,488.4 875.9,488.3 C876.9,488.2 877.9,488.1 878.9,488.0 C879.9,487.9 880.9,487.8 881.9,487.7 C882.9,487.6 883.9,487.5 884.9,487.4 C885.9,487.3 886.9,487.2 887.9,487.1 C888.9,487.1 889.9,487.0 890.9,486.9 C891.9,486.8 892.9,486.7 893.9,486.6 C894.9,486.6 895.9,486.5 896.9,486.4 C897.9,486.3 898.9,486.2 899.9,486.2 C900.9,486.1 901.9,486.0 902.9,485.9 C903.9,485.8 904.9,485.8 905.9,485.7 C906.9,485.6 907.9,485.5 908.9,485.4 C909.9,485.3 910.9,485.3 911.9,485.2 C912.9,485.1 913.9,485.0 914.9,484.9 C915.9,484.8 916.9,484.8 917.9,484.7 C918.9,484.6 919.9,484.5 920.9,484.5 C921.9,484.4 922.9,484.3 923.9,484.2 C924.9,484.2 925.9,484.1 926.9,484.0 C927.9,483.9 928.9,483.8 929.9,483.8 C930.9,483.7 931.9,483.6 932.9,483.6 C933.9,483.5 934.9,483.4 935.9,483.3 C936.9,483.3 937.9,483.2 938.9,483.1 C939.9,483.0 940.9,483.0 941.9,482.9 C942.9,482.8 943.9,482.8 944.9,482.7 C945.9,482.6 946.9,482.6 947.9,482.5 C948.9,482.4 949.9,482.3 950.9,482.3 C951.9,482.2 952.9,482.1 953.9,482.1 C954.9,482.0 955.9,481.9 956.9,481.8 C957.9,481.8 958.9,481.7 959.9,481.6 C960.9,481.5 961.9,481.5 962.9,481.4 C963.9,481.3 964.9,481.2 965.9,481.2 C966.9,481.1 967.9,481.0 968.9,480.9 C969.9,480.9 970.9,480.8 971.9,480.7 C972.9,480.6 973.9,480.5 974.9,480.5 C975.9,480.4 976.9,480.3 977.9,480.2 C978.9,480.2 979.9,480.1 980.9,480.0 C981.9,479.9 982.9,479.8 983.9,479.8 C984.9,479.7 985.9,479.6 986.9,479.5 C987.9,479.5 988.9,479.4 989.9,479.3 C990.9,479.2 991.9,479.1 992.9,479.1 C993.9,479.0 994.9,478.9 995.9,478.8 C996.9,478.8 997.9,478.7 998.9,478.6 C999.9,478.5 1000.9,478.5 1001.9,478.4 C1002.9,478.3 1003.9,478.3 1004.9,478.2 C1005.9,478.1 1006.9,478.0 1007.9,478.0 C1008.9,477.9 1009.9,477.8 1010.9,477.8 C1011.9,477.7 1012.9,477.6 1013.9,477.5 C1014.9,477.5 1015.9,477.4 1016.9,477.3 C1017.9,477.2 1018.9,477.2 1019.9,477.1 C1020.9,477.0 1021.9,477.0 1022.9,476.9 C1023.9,476.8 1024.9,476.7 1025.9,476.7 C1026.9,476.6 1027.9,476.5 1028.9,476.4 C1029.9,476.4 1030.9,476.3 1031.9,476.2 C1032.9,476.1 1033.9,476.0 1034.9,475.9 C1035.9,475.8 1036.9,475.8 1037.9,475.7 C1038.9,475.6 1039.9,475.5 1040.9,475.4 C1041.9,475.3 1042.9,475.2 1043.9,475.1 C1044.9,475.0 1045.9,474.9 1046.9,474.7 C1047.9,474.6 1048.9,474.5 1049.9,474.4 C1050.9,474.3 1051.9,474.2 1052.9,474.0 C1053.9,473.9 1054.9,473.8 1055.9,473.7 C1056.9,473.5 1057.9,473.4 1058.9,473.3 C1059.9,473.2 1060.9,473.0 1061.9,472.9 C1062.9,472.8 1063.9,472.6 1064.9,472.5 C1065.9,472.3 1066.9,472.2 1067.9,472.1 C1068.9,471.9 1069.9,471.8 1070.9,471.6 C1071.9,471.5 1072.9,471.3 1073.9,471.2 C1074.9,471.1 1075.9,470.9 1076.9,470.8 C1077.9,470.6 1078.9,470.4 1079.9,470.3 C1080.9,470.1 1081.9,470.0 1082.9,469.8 C1083.9,469.7 1084.9,469.5 1085.9,469.4 C1086.9,469.2 1087.9,469.0 1088.9,468.9 C1089.9,468.7 1090.9,468.6 1091.9,468.4 C1092.9,468.2 1093.9,468.1 1094.9,467.9 C1095.9,467.7 1096.9,467.6 1097.9,467.4 C1098.9,467.2 1099.9,467.1 1100.9,466.9 C1101.9,466.7 1102.9,466.5 1103.9,466.4 C1104.9,466.2 1105.9,466.0 1106.9,465.8 C1107.9,465.7 1108.9,465.5 1109.9,465.3 C1110.9,465.1 1111.9,464.9 1112.9,464.8 C1113.9,464.6 1114.9,464.4 1115.9,464.2 C1116.9,464.0 1117.9,463.9 1118.9,463.7 C1119.9,463.5 1120.9,463.3 1121.9,463.1 C1122.9,462.9 1123.9,462.7 1124.9,462.5 C1125.9,462.3 1126.9,462.2 1127.9,462.0 C1128.9,461.8 1129.9,461.6 1130.9,461.4 C1131.9,461.2 1132.9,461.0 1133.9,460.8 C1134.9,460.6 1135.9,460.4 1136.9,460.2 C1137.9,460.0 1138.9,459.8 1139.9,459.6 C1140.9,459.4 1141.9,459.2 1142.9,459.0 C1143.9,458.8 1144.9,458.6 1145.9,458.4 C1146.9,458.2 1147.9,458.0 1148.9,457.8 C1149.9,457.6 1150.9,457.4 1151.9,457.2 C1152.9,457.0 1153.9,456.8 1154.9,456.6 C1155.9,456.4 1156.9,456.2 1157.9,456.0 C1158.9,455.8 1159.9,455.6 1160.9,455.4 C1161.9,455.2 1162.9,455.0 1163.9,454.8 C1164.9,454.6 1165.9,454.5 1166.9,454.3 C1167.9,454.1 1168.9,453.9 1169.9,453.7 C1170.9,453.5 1171.9,453.3 1172.9,453.1 C1173.9,452.9 1174.9,452.7 1175.9,452.6 C1176.9,452.4 1177.9,452.2 1178.9,452.0 C1179.9,451.8 1180.9,451.6 1181.9,451.4 C1182.9,451.2 1183.9,451.1 1184.9,450.9 C1185.9,450.7 1186.9,450.5 1187.9,450.3 C1188.9,450.1 1189.9,449.9 1190.9,449.8 C1191.9,449.6 1192.9,449.4 1193.9,449.2 C1194.9,449.0 1195.9,448.8 1196.9,448.6 C1197.9,448.5 1198.9,448.3 1199.9,448.1 C1200.9,447.9 1201.9,447.7 1202.9,447.5 C1203.9,447.4 1204.9,447.2 1205.9,447.0 C1206.9,446.8 1207.9,446.6 1208.9,446.4 C1209.9,446.2 1210.9,446.1 1211.9,445.9 C1212.9,445.7 1213.9,445.5 1214.9,445.3 C1215.9,445.1 1216.9,445.0 1217.9,444.8 C1218.9,444.6 1219.9,444.4 1220.9,444.2 C1221.9,444.1 1222.9,443.9 1223.9,443.7 C1224.9,443.5 1225.9,443.4 1226.9,443.2 C1227.9,443.0 1228.9,442.8 1229.9,442.7 C1230.9,442.5 1231.9,442.3 1232.9,442.1 C1233.9,442.0 1234.9,441.8 1235.9,441.6 C1236.9,441.5 1237.9,441.3 1238.9,441.1 C1239.9,441.0 1240.9,440.8 1241.9,440.7 C1242.9,440.5 1243.9,440.4 1244.9,440.2 C1245.9,440.1 1246.9,439.9 1247.9,439.8 C1248.9,439.6 1249.9,439.5 1250.9,439.3 C1251.9,439.2 1252.9,439.0 1253.9,438.9 C1254.9,438.7 1255.9,438.6 1256.9,438.5 C1257.9,438.3 1258.9,438.2 1259.9,438.1 C1260.9,437.9 1261.9,437.8 1262.9,437.7 C1263.9,437.5 1264.9,437.4 1265.9,437.3 C1266.9,437.1 1267.9,437.0 1268.9,436.9 C1269.9,436.8 1270.9,436.6 1271.9,436.5 C1272.9,436.4 1273.9,436.3 1274.9,436.1 C1275.9,436.0 1276.9,435.9 1277.9,435.8 C1278.9,435.7 1279.9,435.5 1280.9,435.4 C1281.9,435.3 1282.9,435.2 1283.9,435.1 C1284.9,435.0 1285.9,434.9 1286.9,434.7 C1287.9,434.6 1288.9,434.5 1289.9,434.4 C1290.9,434.3 1291.9,434.2 1292.9,434.1 C1293.9,434.0 1294.9,433.9 1295.9,433.8 C1296.9,433.7 1297.9,433.6 1298.9,433.5 C1299.9,433.4 1300.9,433.4 1301.9,433.3 C1302.9,433.2 1303.9,433.1 1304.9,433.0 C1305.9,433.0 1306.9,432.9 1307.9,432.8 C1308.9,432.8 1309.9,432.7 1310.9,432.6 C1311.9,432.6 1312.9,432.5 1313.9,432.5 C1314.9,432.4 1315.9,432.4 1316.9,432.4 C1317.9,432.3 1318.9,432.3 1319.9,432.2 C1320.9,432.2 1321.9,432.2 1322.9,432.1 C1323.9,432.1 1324.9,432.1 1325.9,432.1 C1326.9,432.0 1327.9,432.0 1328.9,432.0 C1329.9,432.0 1330.9,432.0 1331.9,431.9 C1332.9,431.9 1333.9,431.9 1334.9,431.9 C1335.9,431.9 1336.9,431.9 1337.9,431.9 C1338.9,431.9 1339.9,431.9 1340.9,431.9 C1341.9,431.9 1342.9,431.9 1343.9,431.9 C1344.9,431.9 1345.9,431.9 1346.9,431.9 C1347.9,431.9 1348.9,431.9 1349.9,431.9 C1350.9,431.9 1351.9,431.9 1352.9,431.9 C1353.9,431.9 1354.9,431.9 1355.9,431.9 C1356.9,431.9 1357.9,431.9 1358.9,432.0 C1359.9,432.0 1360.9,432.0 1361.9,432.0 C1362.9,432.0 1363.9,432.0 1364.9,432.1 C1365.9,432.1 1366.9,432.1 1367.9,432.2 C1368.9,432.2 1369.9,432.2 1370.9,432.3 C1371.9,432.3 1372.9,432.3 1373.9,432.4 C1374.9,432.4 1375.9,432.5 1376.9,432.6 C1377.9,432.6 1378.9,432.7 1379.9,432.7 C1380.9,432.8 1381.9,432.9 1382.9,432.9 C1383.9,433.0 1384.9,433.1 1385.9,433.2 C1386.9,433.3 1387.9,433.4 1388.9,433.5 C1389.9,433.6 1390.9,433.6 1391.9,433.7 C1392.9,433.8 1393.9,433.9 1394.9,434.0 C1395.9,434.1 1396.9,434.3 1397.9,434.4 C1398.9,434.5 1399.9,434.6 1400.9,434.7 C1401.9,434.8 1402.9,434.9 1403.9,435.0 C1404.9,435.1 1405.9,435.3 1406.9,435.4 C1407.9,435.5 1408.9,435.6 1409.9,435.7 C1410.9,435.8 1411.9,436.0 1412.9,436.1 C1413.9,436.2 1414.9,436.3 1415.9,436.4 C1416.9,436.5 1417.9,436.7 1418.9,436.8 C1419.9,436.9 1420.9,437.0 1421.9,437.1 C1422.9,437.2 1423.9,437.3 1424.9,437.5 C1425.9,437.6 1426.9,437.7 1427.9,437.8 C1428.9,437.9 1429.9,438.0 1430.9,438.1 C1431.9,438.2 1432.9,438.3 1433.9,438.4 C1434.9,438.4 1435.9,438.5 1436.9,438.6 C1437.9,438.6 1438.9,438.7 1439.9,438.7 C1440.9,438.7 1441.9,438.8 1442.9,438.8 C1443.9,438.8 1444.9,438.8 1445.9,438.8 C1446.9,438.7 1447.9,438.7 1448.9,438.6 C1449.9,438.6 1450.9,438.5 1451.9,438.4 C1452.9,438.3 1453.9,438.2 1454.9,438.1 C1455.9,437.9 1456.9,437.8 1457.9,437.6 C1458.9,437.5 1459.9,437.3 1460.9,437.1 C1461.9,436.9 1462.9,436.7 1463.9,436.4 C1464.9,436.2 1465.9,435.9 1466.9,435.7 C1467.9,435.4 1468.9,435.1 1469.9,434.8 C1470.9,434.5 1471.9,434.2 1472.9,433.9 C1473.9,433.6 1474.9,433.2 1475.9,432.9 C1476.9,432.5 1477.9,432.1 1478.9,431.8 C1479.9,431.4 1480.9,431.0 1481.9,430.6 C1482.9,430.2 1483.9,429.8 1484.9,429.4 C1485.9,429.0 1486.9,428.6 1487.9,428.2 C1488.9,427.8 1489.9,427.4 1490.9,427.0 C1491.9,426.6 1492.9,426.2 1493.9,425.8 C1494.9,425.5 1495.9,425.1 1496.9,424.7 C1497.9,424.4 1498.9,424.0 1499.9,423.7 C1500.9,423.4 1501.9,423.1 1502.9,422.9 C1503.9,422.6 1504.9,422.3 1505.9,422.1 C1506.9,421.9 1507.9,421.7 1508.9,421.5 C1509.9,421.3 1510.9,421.2 1511.9,421.1 C1512.9,421.0 1513.9,420.9 1514.9,420.8 C1515.9,420.7 1516.9,420.6 1517.9,420.6 C1518.9,420.6 1519.9,420.5 1520.9,420.5 C1521.9,420.5 1522.9,420.5 1523.9,420.5 C1524.9,420.5 1525.9,420.5 1526.9,420.5 C1527.9,420.6 1528.9,420.6 1529.9,420.7 C1530.9,420.7 1531.9,420.8 1532.9,420.8 C1533.9,420.9 1534.9,421.0 1535.9,421.1 C1536.9,421.1 1537.9,421.2 1538.9,421.3 C1539.9,421.4 1540.9,421.5 1541.9,421.6 C1542.9,421.7 1543.9,421.8 1544.9,421.9 C1545.9,422.1 1546.9,422.2 1547.9,422.3 C1548.9,422.4 1549.9,422.5 1550.9,422.6 C1551.9,422.8 1552.9,422.9 1553.9,423.0 C1554.9,423.1 1555.9,423.3 1556.9,423.4 C1557.9,423.5 1558.9,423.6 1559.9,423.7 C1560.9,423.8 1561.9,424.0 1562.9,424.1 C1563.9,424.2 1564.9,424.3 1565.9,424.4 C1566.9,424.5 1567.9,424.6 1568.9,424.7 C1569.9,424.8 1570.9,424.9 1571.9,425.0 C1572.9,425.1 1573.9,425.1 1574.9,425.2 C1575.9,425.3 1576.9,425.4 1577.9,425.5 C1578.9,425.5 1579.9,425.6 1580.9,425.7 C1581.9,425.8 1582.9,425.8 1583.9,425.9 C1584.9,426.0 1585.9,426.0 1586.9,426.1 C1587.9,426.2 1588.9,426.2 1589.9,426.3 C1590.9,426.3 1591.9,426.4 1592.9,426.4 C1593.9,426.5 1594.9,426.5 1595.9,426.6 C1596.9,426.6 1597.9,426.7 1598.9,426.7 C1599.9,426.7 1600.9,426.8 1601.9,426.8 C1602.9,426.9 1603.9,426.9 1604.9,426.9 C1605.9,426.9 1606.9,427.0 1607.9,427.0 C1608.9,427.0 1609.9,427.0 1610.9,427.0 C1611.9,427.1 1612.9,427.1 1613.9,427.1 C1614.9,427.1 1615.9,427.1 1616.9,427.1 C1617.9,427.1 1618.9,427.1 1619.9,427.1 C1620.9,427.1 1621.9,427.1 1622.9,427.1 C1623.9,427.1 1624.9,427.1 1625.9,427.1 C1626.9,427.1 1627.9,427.1 1628.9,427.1 C1629.9,427.1 1630.9,427.1 1631.9,427.1 C1632.9,427.1 1633.9,427.1 1634.9,427.1 C1635.9,427.1 1636.9,427.1 1637.9,427.1 C1638.9,427.1 1639.9,427.1 1640.9,427.1 C1641.9,427.1 1642.9,427.1 1643.9,427.1 C1644.9,427.0 1645.9,427.0 1646.9,427.0 C1647.9,427.0 1648.9,427.0 1649.9,427.0 C1650.9,427.0 1651.9,427.0 1652.9,427.0 C1653.9,427.0 1654.9,427.0 1655.9,427.0 C1656.9,427.0 1657.9,427.0 1658.9,427.0 C1659.9,427.0 1660.9,427.0 1661.9,427.0 C1662.9,427.0 1663.9,426.9 1664.9,426.9 C1665.9,426.9 1666.9,426.9 1667.9,426.9 C1668.9,426.9 1669.9,426.8 1670.9,426.8 C1671.9,426.8 1672.9,426.8 1673.9,426.7 C1674.9,426.7 1675.9,426.7 1676.9,426.6 C1677.9,426.6 1678.9,426.6 1679.9,426.5 C1680.9,426.5 1681.9,426.4 1682.9,426.4 C1683.9,426.3 1684.9,426.3 1685.9,426.2 C1686.9,426.2 1687.9,426.1 1688.9,426.1 C1689.9,426.0 1690.9,426.0 1691.9,425.9 C1692.9,425.9 1693.9,425.8 1694.9,425.7 C1695.9,425.7 1696.9,425.6 1697.9,425.5 C1698.9,425.5 1699.9,425.4 1700.9,425.3 C1701.9,425.3 1702.9,425.2 1703.9,425.1 C1704.9,425.1 1705.9,425.0 1706.9,424.9 C1707.9,424.8 1708.9,424.8 1709.9,424.7 C1710.9,424.6 1711.9,424.5 1712.9,424.5 C1713.9,424.4 1714.9,424.3 1715.9,424.2 C1716.9,424.2 1717.9,424.1 1718.9,424.0 C1719.9,423.9 1720.9,423.9 1721.9,423.8 C1722.9,423.7 1723.9,423.6 1724.9,423.6 C1725.9,423.5 1726.9,423.4 1727.9,423.4 C1728.9,423.3 1729.9,423.2 1730.9,423.2 C1731.9,423.1 1732.9,423.1 1733.9,423.0 C1734.9,422.9 1735.9,422.9 1736.9,422.8 C1737.9,422.8 1738.9,422.7 1739.9,422.6 C1740.9,422.6 1741.9,422.5 1742.9,422.5 C1743.9,422.4 1744.9,422.3 1745.9,422.3 C1746.9,422.2 1747.9,422.1 1748.9,422.1 C1749.9,422.0 1750.9,421.9 1751.9,421.8 C1752.9,421.7 1753.9,421.6 1754.9,421.6 C1755.9,421.5 1756.9,421.4 1757.9,421.3 C1758.9,421.2 1759.9,421.1 1760.9,421.0 C1761.9,420.9 1762.9,420.8 1763.9,420.7 C1764.9,420.6 1765.9,420.5 1766.9,420.4 C1767.9,420.4 1768.9,420.3 1769.9,420.2 C1770.9,420.1 1771.9,420.0 1772.9,419.9 C1773.9,419.8 1774.9,419.7 1775.9,419.7 C1776.9,419.6 1777.9,419.5 1778.9,419.4 C1779.9,419.3 1780.9,419.2 1781.9,419.2 C1782.9,419.1 1783.9,419.0 1784.9,418.9 C1785.9,418.9 1786.9,418.8 1787.9,418.7 C1788.9,418.6 1789.9,418.6 1790.9,418.5 C1791.9,418.4 1792.9,418.3 1793.9,418.3 C1794.9,418.2 1795.9,418.1 1796.9,418.1 C1797.9,418.0 1798.9,417.9 1799.9,417.9 C1800.9,417.8 1801.9,417.8 1802.9,417.7 C1803.9,417.6 1804.9,417.6 1805.9,417.5 C1806.9,417.5 1807.9,417.4 1808.9,417.4 C1809.9,417.3 1810.9,417.2 1811.9,417.2 C1812.9,417.1 1813.9,417.1 1814.9,417.0 C1815.9,417.0 1816.9,416.9 1817.9,416.9 C1818.9,416.8 1819.9,416.8 1820.9,416.7 C1821.9,416.7 1822.9,416.6 1823.9,416.6 C1824.9,416.5 1825.9,416.5 1826.9,416.4 C1827.9,416.4 1828.9,416.4 1829.9,416.3 C1830.9,416.3 1831.9,416.2 1832.9,416.2 C1833.9,416.1 1834.9,416.1 1835.9,416.0 C1836.9,416.0 1837.9,416.0 1838.9,415.9 C1839.9,415.9 1840.9,415.8 1841.9,415.8 C1842.9,415.7 1843.9,415.7 1844.9,415.7 C1845.9,415.6 1846.9,415.6 1847.9,415.6 C1848.9,415.5 1849.9,415.5 1850.9,415.4 C1851.9,415.4 1852.9,415.4 1853.9,415.3 C1854.9,415.3 1855.9,415.3 1856.9,415.2 C1857.9,415.2 1858.9,415.2 1859.9,415.1 C1860.9,415.1 1861.9,415.1 1862.9,415.0 C1863.9,415.0 1864.9,415.0 1865.9,414.9 C1866.9,414.9 1867.9,414.9 1868.9,414.9 C1869.9,414.8 1870.9,414.8 1871.9,414.8 C1872.9,414.8 1873.9,414.8 1874.9,414.7 C1875.9,414.7 1876.9,414.7 1877.9,414.7 C1878.9,414.7 1879.9,414.7 1880.9,414.6 C1881.9,414.6 1882.9,414.6 1883.9,414.6 C1884.9,414.6 1885.9,414.6 1886.9,414.6 C1887.9,414.5 1888.9,414.5 1889.9,414.5 C1890.9,414.5 1891.9,414.5 1892.9,414.5 C1893.9,414.5 1894.9,414.5 1895.9,414.5 C1896.9,414.5 1897.9,414.4 1898.9,414.4 C1899.9,414.4 1900.9,414.4 1901.9,414.4 C1902.9,414.4 1903.9,414.4 1904.9,414.4 C1905.9,414.4 1907.1,414.4 1907.9,414.4 C1908.8,414.4 1909.7,414.4 1910.0,414.4" fill="none" stroke="#4472c4" stroke-width="7.5" stroke-linecap="round" stroke-linejoin="round"/>
<path d="M332.9,681.0 C333.4,681.0 334.9,681.0 335.9,681.0 C336.9,681.0 337.9,681.0 338.9,681.0 C339.9,681.1 340.9,681.0 341.9,681.0 C342.9,681.0 343.9,681.0 344.9,681.0 C345.9,681.0 346.9,681.0 347.9,681.0 C348.9,681.1 349.9,681.1 350.9,681.1 C351.9,681.1 352.9,681.1 353.9,681.1 C354.9,681.1 355.9,681.1 356.9,681.1 C357.9,681.1 358.9,681.1 359.9,681.1 C360.9,681.1 361.9,681.1 362.9,681.1 C363.9,681.1 364.9,681.1 365.9,681.1 C366.9,681.1 367.9,681.1 368.9,681.1 C369.9,681.1 370.9,681.1 371.9,681.1 C372.9,681.1 373.9,681.1 374.9,681.1 C375.9,681.1 376.9,681.1 377.9,681.1 C378.9,681.1 379.9,681.1 380.9,681.1 C381.9,681.1 382.9,681.1 383.9,681.1 C384.9,681.1 385.9,681.1 386.9,681.1 C387.9,681.1 388.9,681.0 389.9,681.0 C390.9,681.0 391.9,681.0 392.9,681.0 C393.9,681.0 394.9,681.0 395.9,680.9 C396.9,680.9 397.9,680.9 398.9,680.9 C399.9,680.8 400.9,680.8 401.9,680.7 C402.9,680.7 403.9,680.7 404.9,680.6 C405.9,680.5 406.9,680.5 407.9,680.4 C408.9,680.4 409.9,680.3 410.9,680.2 C411.9,680.1 412.9,680.0 413.9,679.9 C414.9,679.8 415.9,679.8 416.9,679.6 C417.9,679.5 418.9,679.4 419.9,679.3 C420.9,679.2 421.9,679.0 422.9,678.9 C423.9,678.7 424.9,678.6 425.9,678.4 C426.9,678.3 427.9,678.1 428.9,677.9 C429.9,677.7 430.9,677.6 431.9,677.4 C432.9,677.2 433.9,677.0 434.9,676.8 C435.9,676.6 436.9,676.3 437.9,676.1 C438.9,675.9 439.9,675.7 440.9,675.5 C441.9,675.2 442.9,675.0 443.9,674.7 C444.9,674.5 445.9,674.2 446.9,674.0 C447.9,673.7 448.9,673.5 449.9,673.2 C450.9,672.9 451.9,672.7 452.9,672.4 C453.9,672.1 454.9,671.9 455.9,671.6 C456.9,671.3 457.9,671.0 458.9,670.7 C459.9,670.5 460.9,670.2 461.9,669.9 C462.9,669.6 463.9,669.3 464.9,669.0 C465.9,668.7 466.9,668.4 467.9,668.1 C468.9,667.8 469.9,667.5 470.9,667.1 C471.9,666.8 472.9,666.5 473.9,666.2 C474.9,665.9 475.9,665.5 476.9,665.2 C477.9,664.9 478.9,664.6 479.9,664.2 C480.9,663.9 481.9,663.6 482.9,663.2 C483.9,662.9 484.9,662.5 485.9,662.2 C486.9,661.8 487.9,661.5 488.9,661.1 C489.9,660.8 490.9,660.4 491.9,660.1 C492.9,659.7 493.9,659.3 494.9,659.0 C495.9,658.6 496.9,658.2 497.9,657.9 C498.9,657.5 499.9,657.1 500.9,656.7 C501.9,656.3 502.9,655.9 503.9,655.5 C504.9,655.2 505.9,654.8 506.9,654.4 C507.9,654.0 508.9,653.6 509.9,653.1 C510.9,652.7 511.9,652.3 512.9,651.9 C513.9,651.5 514.9,651.1 515.9,650.6 C516.9,650.2 517.9,649.8 518.9,649.4 C519.9,648.9 520.9,648.5 521.9,648.0 C522.9,647.6 523.9,647.1 524.9,646.7 C525.9,646.2 526.9,645.7 527.9,645.3 C528.9,644.8 529.9,644.3 530.9,643.8 C531.9,643.3 532.9,642.9 533.9,642.4 C534.9,641.9 535.9,641.4 536.9,640.9 C537.9,640.3 538.9,639.8 539.9,639.3 C540.9,638.8 541.9,638.3 542.9,637.7 C543.9,637.2 544.9,636.7 545.9,636.1 C546.9,635.6 547.9,635.0 548.9,634.5 C549.9,634.0 550.9,633.4 551.9,632.9 C552.9,632.3 553.9,631.7 554.9,631.2 C555.9,630.6 556.9,630.0 557.9,629.5 C558.9,628.9 559.9,628.3 560.9,627.8 C561.9,627.2 562.9,626.6 563.9,626.0 C564.9,625.5 565.9,624.9 566.9,624.3 C567.9,623.8 568.9,623.2 569.9,622.6 C570.9,622.0 571.9,621.5 572.9,620.9 C573.9,620.3 574.9,619.7 575.9,619.2 C576.9,618.6 577.9,618.0 578.9,617.5 C579.9,616.9 580.9,616.3 581.9,615.8 C582.9,615.2 583.9,614.6 584.9,614.1 C585.9,613.5 586.9,613.0 587.9,612.4 C588.9,611.8 589.9,611.3 590.9,610.7 C591.9,610.2 592.9,609.6 593.9,609.1 C594.9,608.5 595.9,608.0 596.9,607.4 C597.9,606.9 598.9,606.3 599.9,605.8 C600.9,605.2 601.9,604.7 602.9,604.1 C603.9,603.6 604.9,603.0 605.9,602.5 C606.9,601.9 607.9,601.4 608.9,600.8 C609.9,600.2 610.9,599.7 611.9,599.1 C612.9,598.6 613.9,598.0 614.9,597.4 C615.9,596.9 616.9,596.3 617.9,595.7 C618.9,595.2 619.9,594.6 620.9,594.0 C621.9,593.5 622.9,592.9 623.9,592.3 C624.9,591.8 625.9,591.2 626.9,590.6 C627.9,590.0 628.9,589.5 629.9,588.9 C630.9,588.3 631.9,587.8 632.9,587.2 C633.9,586.6 634.9,586.0 635.9,585.5 C636.9,584.9 637.9,584.3 638.9,583.8 C639.9,583.2 640.9,582.6 641.9,582.0 C642.9,581.5 643.9,580.9 644.9,580.4 C645.9,579.8 646.9,579.2 647.9,578.7 C648.9,578.1 649.9,577.5 650.9,577.0 C651.9,576.4 652.9,575.9 653.9,575.3 C654.9,574.7 655.9,574.2 656.9,573.6 C657.9,573.1 658.9,572.5 659.9,572.0 C660.9,571.4 661.9,570.9 662.9,570.3 C663.9,569.8 664.9,569.2 665.9,568.7 C666.9,568.1 667.9,567.6 668.9,567.0 C669.9,566.5 670.9,566.0 671.9,565.4 C672.9,564.9 673.9,564.4 674.9,563.8 C675.9,563.3 676.9,562.8 677.9,562.2 C678.9,561.7 679.9,561.2 680.9,560.7 C681.9,560.1 682.9,559.6 683.9,559.1 C684.9,558.6 685.9,558.1 686.9,557.6 C687.9,557.1 688.9,556.5 689.9,556.0 C690.9,555.5 691.9,555.0 692.9,554.5 C693.9,554.0 694.9,553.5 695.9,553.0 C696.9,552.5 697.9,552.0 698.9,551.5 C699.9,551.0 700.9,550.5 701.9,550.0 C702.9,549.5 703.9,549.0 704.9,548.5 C705.9,548.0 706.9,547.5 707.9,547.0 C708.9,546.5 709.9,546.0 710.9,545.5 C711.9,545.0 712.9,544.5 713.9,544.0 C714.9,543.5 715.9,543.0 716.9,542.5 C717.9,542.0 718.9,541.4 719.9,540.9 C720.9,540.4 721.9,539.9 722.9,539.4 C723.9,538.9 724.9,538.4 725.9,537.9 C726.9,537.4 727.9,536.8 728.9,536.3 C729.9,535.8 730.9,535.3 731.9,534.8 C732.9,534.3 733.9,533.8 734.9,533.3 C735.9,532.8 736.9,532.3 737.9,531.8 C738.9,531.4 739.9,530.9 740.9,530.4 C741.9,529.9 742.9,529.4 743.9,528.9 C744.9,528.5 745.9,528.0 746.9,527.5 C747.9,527.1 748.9,526.6 749.9,526.1 C750.9,525.7 751.9,525.2 752.9,524.8 C753.9,524.3 754.9,523.9 755.9,523.4 C756.9,523.0 757.9,522.6 758.9,522.1 C759.9,521.7 760.9,521.3 761.9,520.9 C762.9,520.4 763.9,520.0 764.9,519.6 C765.9,519.2 766.9,518.8 767.9,518.4 C768.9,518.0 769.9,517.6 770.9,517.2 C771.9,516.8 772.9,516.4 773.9,516.0 C774.9,515.6 775.9,515.3 776.9,514.9 C777.9,514.5 778.9,514.1 779.9,513.8 C780.9,513.4 781.9,513.1 782.9,512.7 C783.9,512.3 784.9,512.0 785.9,511.6 C786.9,511.3 787.9,510.9 788.9,510.6 C789.9,510.3 790.9,509.9 791.9,509.6 C792.9,509.3 793.9,509.0 794.9,508.6 C795.9,508.3 796.9,508.0 797.9,507.7 C798.9,507.3 799.9,507.0 800.9,506.7 C801.9,506.4 802.9,506.1 803.9,505.8 C804.9,505.5 805.9,505.2 806.9,504.9 C807.9,504.6 808.9,504.3 809.9,504.0 C810.9,503.7 811.9,503.4 812.9,503.1 C813.9,502.8 814.9,502.5 815.9,502.2 C816.9,502.0 817.9,501.7 818.9,501.4 C819.9,501.1 820.9,500.8 821.9,500.6 C822.9,500.3 823.9,500.0 824.9,499.7 C825.9,499.5 826.9,499.2 827.9,498.9 C828.9,498.7 829.9,498.4 830.9,498.1 C831.9,497.9 832.9,497.6 833.9,497.4 C834.9,497.1 835.9,496.9 836.9,496.6 C837.9,496.4 838.9,496.1 839.9,495.9 C840.9,495.6 841.9,495.4 842.9,495.2 C843.9,494.9 844.9,494.7 845.9,494.5 C846.9,494.3 847.9,494.0 848.9,493.8 C849.9,493.6 850.9,493.4 851.9,493.2 C852.9,493.0 853.9,492.8 854.9,492.6 C855.9,492.4 856.9,492.2 857.9,492.1 C858.9,491.9 859.9,491.7 860.9,491.6 C861.9,491.4 862.9,491.3 863.9,491.1 C864.9,491.0 865.9,490.9 866.9,490.8 C867.9,490.7 868.9,490.6 869.9,490.5 C870.9,490.4 871.9,490.3 872.9,490.3 C873.9,490.2 874.9,490.2 875.9,490.1 C876.9,490.1 877.9,490.1 878.9,490.1 C879.9,490.1 880.9,490.1 881.9,490.1 C882.9,490.0 883.9,490.1 884.9,490.1 C885.9,490.1 886.9,490.1 887.9,490.1 C888.9,490.1 889.9,490.1 890.9,490.1 C891.9,490.1 892.9,490.2 893.9,490.2 C894.9,490.2 895.9,490.2 896.9,490.2 C897.9,490.2 898.9,490.2 899.9,490.2 C900.9,490.2 901.9,490.2 902.9,490.1 C903.9,490.1 904.9,490.1 905.9,490.1 C906.9,490.1 907.9,490.0 908.9,490.0 C909.9,490.0 910.9,490.0 911.9,489.9 C912.9,489.9 913.9,489.9 914.9,489.8 C915.9,489.8 916.9,489.8 917.9,489.7 C918.9,489.7 919.9,489.7 920.9,489.6 C921.9,489.6 922.9,489.6 923.9,489.5 C924.9,489.5 925.9,489.5 926.9,489.4 C927.9,489.4 928.9,489.4 929.9,489.3 C930.9,489.3 931.9,489.3 932.9,489.2 C933.9,489.2 934.9,489.2 935.9,489.2 C936.9,489.1 937.9,489.1 938.9,489.1 C939.9,489.0 940.9,489.0 941.9,489.0 C942.9,489.0 943.9,488.9 944.9,488.9 C945.9,488.9 946.9,488.9 947.9,488.8 C948.9,488.8 949.9,488.8 950.9,488.8 C951.9,488.7 952.9,488.7 953.9,488.7 C954.9,488.7 955.9,488.6 956.9,488.6 C957.9,488.6 958.9,488.5 959.9,488.5 C960.9,488.5 961.9,488.4 962.9,488.4 C963.9,488.4 964.9,488.3 965.9,488.3 C966.9,488.3 967.9,488.2 968.9,488.2 C969.9,488.2 970.9,488.1 971.9,488.1 C972.9,488.1 973.9,488.0 974.9,488.0 C975.9,488.0 976.9,487.9 977.9,487.9 C978.9,487.8 979.9,487.8 980.9,487.7 C981.9,487.7 982.9,487.6 983.9,487.6 C984.9,487.6 985.9,487.5 986.9,487.4 C987.9,487.4 988.9,487.3 989.9,487.3 C990.9,487.2 991.9,487.2 992.9,487.1 C993.9,487.1 994.9,487.0 995.9,486.9 C996.9,486.9 997.9,486.8 998.9,486.7 C999.9,486.7 1000.9,486.6 1001.9,486.5 C1002.9,486.4 1003.9,486.4 1004.9,486.3 C1005.9,486.2 1006.9,486.2 1007.9,486.1 C1008.9,486.0 1009.9,485.9 1010.9,485.9 C1011.9,485.8 1012.9,485.7 1013.9,485.6 C1014.9,485.6 1015.9,485.5 1016.9,485.4 C1017.9,485.3 1018.9,485.3 1019.9,485.2 C1020.9,485.1 1021.9,485.0 1022.9,485.0 C1023.9,484.9 1024.9,484.8 1025.9,484.8 C1026.9,484.7 1027.9,484.6 1028.9,484.5 C1029.9,484.4 1030.9,484.4 1031.9,484.3 C1032.9,484.2 1033.9,484.1 1034.9,484.1 C1035.9,484.0 1036.9,483.9 1037.9,483.8 C1038.9,483.7 1039.9,483.7 1040.9,483.6 C1041.9,483.5 1042.9,483.4 1043.9,483.4 C1044.9,483.3 1045.9,483.2 1046.9,483.1 C1047.9,483.0 1048.9,482.9 1049.9,482.9 C1050.9,482.8 1051.9,482.7 1052.9,482.6 C1053.9,482.5 1054.9,482.4 1055.9,482.3 C1056.9,482.2 1057.9,482.2 1058.9,482.1 C1059.9,482.0 1060.9,481.9 1061.9,481.8 C1062.9,481.7 1063.9,481.6 1064.9,481.5 C1065.9,481.4 1066.9,481.3 1067.9,481.2 C1068.9,481.1 1069.9,481.0 1070.9,480.9 C1071.9,480.8 1072.9,480.7 1073.9,480.6 C1074.9,480.4 1075.9,480.3 1076.9,480.2 C1077.9,480.1 1078.9,480.0 1079.9,479.9 C1080.9,479.8 1081.9,479.6 1082.9,479.5 C1083.9,479.4 1084.9,479.3 1085.9,479.1 C1086.9,479.0 1087.9,478.9 1088.9,478.8 C1089.9,478.6 1090.9,478.5 1091.9,478.3 C1092.9,478.2 1093.9,478.1 1094.9,477.9 C1095.9,477.8 1096.9,477.6 1097.9,477.5 C1098.9,477.3 1099.9,477.2 1100.9,477.1 C1101.9,476.9 1102.9,476.7 1103.9,476.6 C1104.9,476.4 1105.9,476.3 1106.9,476.1 C1107.9,476.0 1108.9,475.8 1109.9,475.6 C1110.9,475.5 1111.9,475.3 1112.9,475.2 C1113.9,475.0 1114.9,474.9 1115.9,474.7 C1116.9,474.6 1117.9,474.4 1118.9,474.2 C1119.9,474.1 1120.9,473.9 1121.9,473.8 C1122.9,473.6 1123.9,473.5 1124.9,473.3 C1125.9,473.2 1126.9,473.0 1127.9,472.9 C1128.9,472.7 1129.9,472.6 1130.9,472.4 C1131.9,472.3 1132.9,472.1 1133.9,472.0 C1134.9,471.8 1135.9,471.7 1136.9,471.5 C1137.9,471.4 1138.9,471.2 1139.9,471.1 C1140.9,470.9 1141.9,470.8 1142.9,470.6 C1143.9,470.5 1144.9,470.4 1145.9,470.2 C1146.9,470.1 1147.9,469.9 1148.9,469.8 C1149.9,469.6 1150.9,469.5 1151.9,469.4 C1152.9,469.2 1153.9,469.1 1154.9,468.9 C1155.9,468.8 1156.9,468.7 1157.9,468.5 C1158.9,468.4 1159.9,468.2 1160.9,468.1 C1161.9,468.0 1162.9,467.8 1163.9,467.7 C1164.9,467.6 1165.9,467.4 1166.9,467.3 C1167.9,467.1 1168.9,467.0 1169.9,466.9 C1170.9,466.7 1171.9,466.6 1172.9,466.4 C1173.9,466.3 1174.9,466.2 1175.9,466.0 C1176.9,465.9 1177.9,465.8 1178.9,465.6 C1179.9,465.5 1180.9,465.3 1181.9,465.2 C1182.9,465.1 1183.9,464.9 1184.9,464.8 C1185.9,464.7 1186.9,464.5 1187.9,464.4 C1188.9,464.3 1189.9,464.1 1190.9,464.0 C1191.9,463.9 1192.9,463.7 1193.9,463.6 C1194.9,463.4 1195.9,463.3 1196.9,463.2 C1197.9,463.0 1198.9,462.9 1199.9,462.8 C1200.9,462.6 1201.9,462.5 1202.9,462.4 C1203.9,462.2 1204.9,462.1 1205.9,462.0 C1206.9,461.8 1207.9,461.7 1208.9,461.6 C1209.9,461.4 1210.9,461.3 1211.9,461.2 C1212.9,461.0 1213.9,460.9 1214.9,460.8 C1215.9,460.6 1216.9,460.5 1217.9,460.4 C1218.9,460.3 1219.9,460.1 1220.9,460.0 C1221.9,459.9 1222.9,459.8 1223.9,459.6 C1224.9,459.5 1225.9,459.4 1226.9,459.3 C1227.9,459.1 1228.9,459.0 1229.9,458.9 C1230.9,458.8 1231.9,458.7 1232.9,458.6 C1233.9,458.5 1234.9,458.4 1235.9,458.3 C1236.9,458.2 1237.9,458.0 1238.9,457.9 C1239.9,457.8 1240.9,457.7 1241.9,457.6 C1242.9,457.5 1243.9,457.5 1244.9,457.4 C1245.9,457.3 1246.9,457.2 1247.9,457.1 C1248.9,457.0 1249.9,456.9 1250.9,456.8 C1251.9,456.7 1252.9,456.7 1253.9,456.6 C1254.9,456.5 1255.9,456.4 1256.9,456.4 C1257.9,456.3 1258.9,456.2 1259.9,456.1 C1260.9,456.1 1261.9,456.0 1262.9,455.9 C1263.9,455.9 1264.9,455.8 1265.9,455.7 C1266.9,455.7 1267.9,455.6 1268.9,455.5 C1269.9,455.5 1270.9,455.4 1271.9,455.4 C1272.9,455.3 1273.9,455.2 1274.9,455.2 C1275.9,455.1 1276.9,455.1 1277.9,455.0 C1278.9,455.0 1279.9,454.9 1280.9,454.9 C1281.9,454.8 1282.9,454.8 1283.9,454.7 C1284.9,454.7 1285.9,454.6 1286.9,454.6 C1287.9,454.5 1288.9,454.5 1289.9,454.5 C1290.9,454.4 1291.9,454.4 1292.9,454.4 C1293.9,454.3 1294.9,454.3 1295.9,454.3 C1296.9,454.2 1297.9,454.2 1298.9,454.2 C1299.9,454.2 1300.9,454.2 1301.9,454.1 C1302.9,454.1 1303.9,454.1 1304.9,454.1 C1305.9,454.1 1306.9,454.1 1307.9,454.1 C1308.9,454.1 1309.9,454.2 1310.9,454.2 C1311.9,454.2 1312.9,454.2 1313.9,454.2 C1314.9,454.3 1315.9,454.3 1316.9,454.3 C1317.9,454.3 1318.9,454.4 1319.9,454.4 C1320.9,454.4 1321.9,454.5 1322.9,454.5 C1323.9,454.6 1324.9,454.6 1325.9,454.6 C1326.9,454.7 1327.9,454.7 1328.9,454.8 C1329.9,454.8 1330.9,454.9 1331.9,454.9 C1332.9,455.0 1333.9,455.0 1334.9,455.1 C1335.9,455.1 1336.9,455.1 1337.9,455.2 C1338.9,455.2 1339.9,455.3 1340.9,455.4 C1341.9,455.4 1342.9,455.5 1343.9,455.5 C1344.9,455.6 1345.9,455.6 1346.9,455.7 C1347.9,455.7 1348.9,455.8 1349.9,455.9 C1350.9,455.9 1351.9,456.0 1352.9,456.0 C1353.9,456.1 1354.9,456.1 1355.9,456.2 C1356.9,456.2 1357.9,456.3 1358.9,456.4 C1359.9,456.4 1360.9,456.5 1361.9,456.6 C1362.9,456.6 1363.9,456.7 1364.9,456.7 C1365.9,456.8 1366.9,456.9 1367.9,456.9 C1368.9,457.0 1369.9,457.1 1370.9,457.1 C1371.9,457.2 1372.9,457.2 1373.9,457.3 C1374.9,457.4 1375.9,457.4 1376.9,457.5 C1377.9,457.6 1378.9,457.6 1379.9,457.7 C1380.9,457.8 1381.9,457.8 1382.9,457.9 C1383.9,458.0 1384.9,458.0 1385.9,458.1 C1386.9,458.1 1387.9,458.2 1388.9,458.3 C1389.9,458.3 1390.9,458.4 1391.9,458.4 C1392.9,458.5 1393.9,458.5 1394.9,458.6 C1395.9,458.6 1396.9,458.7 1397.9,458.7 C1398.9,458.7 1399.9,458.8 1400.9,458.8 C1401.9,458.8 1402.9,458.8 1403.9,458.8 C1404.9,458.9 1405.9,458.9 1406.9,458.9 C1407.9,458.9 1408.9,458.9 1409.9,458.9 C1410.9,458.8 1411.9,458.8 1412.9,458.8 C1413.9,458.8 1414.9,458.7 1415.9,458.7 C1416.9,458.6 1417.9,458.6 1418.9,458.5 C1419.9,458.5 1420.9,458.4 1421.9,458.3 C1422.9,458.3 1423.9,458.2 1424.9,458.1 C1425.9,458.0 1426.9,457.9 1427.9,457.8 C1428.9,457.6 1429.9,457.5 1430.9,457.4 C1431.9,457.2 1432.9,457.1 1433.9,456.9 C1434.9,456.7 1435.9,456.6 1436.9,456.4 C1437.9,456.2 1438.9,456.0 1439.9,455.7 C1440.9,455.5 1441.9,455.3 1442.9,455.0 C1443.9,454.8 1444.9,454.5 1445.9,454.2 C1446.9,453.9 1447.9,453.7 1448.9,453.3 C1449.9,453.0 1450.9,452.7 1451.9,452.4 C1452.9,452.0 1453.9,451.6 1454.9,451.3 C1455.9,450.9 1456.9,450.5 1457.9,450.1 C1458.9,449.7 1459.9,449.3 1460.9,448.9 C1461.9,448.4 1462.9,448.0 1463.9,447.5 C1464.9,447.1 1465.9,446.6 1466.9,446.2 C1467.9,445.7 1468.9,445.3 1469.9,444.8 C1470.9,444.3 1471.9,443.8 1472.9,443.4 C1473.9,442.9 1474.9,442.4 1475.9,441.9 C1476.9,441.5 1477.9,441.0 1478.9,440.5 C1479.9,440.0 1480.9,439.6 1481.9,439.1 C1482.9,438.6 1483.9,438.2 1484.9,437.7 C1485.9,437.2 1486.9,436.8 1487.9,436.4 C1488.9,435.9 1489.9,435.5 1490.9,435.1 C1491.9,434.6 1492.9,434.2 1493.9,433.8 C1494.9,433.4 1495.9,433.0 1496.9,432.7 C1497.9,432.3 1498.9,431.9 1499.9,431.6 C1500.9,431.3 1501.9,431.0 1502.9,430.7 C1503.9,430.4 1504.9,430.1 1505.9,429.9 C1506.9,429.6 1507.9,429.4 1508.9,429.1 C1509.9,428.9 1510.9,428.7 1511.9,428.6 C1512.9,428.4 1513.9,428.2 1514.9,428.1 C1515.9,427.9 1516.9,427.8 1517.9,427.7 C1518.9,427.6 1519.9,427.5 1520.9,427.4 C1521.9,427.3 1522.9,427.3 1523.9,427.2 C1524.9,427.2 1525.9,427.1 1526.9,427.1 C1527.9,427.1 1528.9,427.1 1529.9,427.1 C1530.9,427.0 1531.9,427.1 1532.9,427.1 C1533.9,427.1 1534.9,427.1 1535.9,427.2 C1536.9,427.2 1537.9,427.2 1538.9,427.3 C1539.9,427.3 1540.9,427.4 1541.9,427.5 C1542.9,427.5 1543.9,427.6 1544.9,427.7 C1545.9,427.8 1546.9,427.9 1547.9,427.9 C1548.9,428.0 1549.9,428.1 1550.9,428.2 C1551.9,428.3 1552.9,428.4 1553.9,428.5 C1554.9,428.6 1555.9,428.7 1556.9,428.8 C1557.9,428.9 1558.9,429.0 1559.9,429.1 C1560.9,429.2 1561.9,429.3 1562.9,429.4 C1563.9,429.5 1564.9,429.6 1565.9,429.7 C1566.9,429.8 1567.9,429.9 1568.9,430.0 C1569.9,430.1 1570.9,430.2 1571.9,430.2 C1572.9,430.3 1573.9,430.4 1574.9,430.5 C1575.9,430.6 1576.9,430.7 1577.9,430.8 C1578.9,430.9 1579.9,431.0 1580.9,431.1 C1581.9,431.1 1582.9,431.2 1583.9,431.3 C1584.9,431.4 1585.9,431.5 1586.9,431.6 C1587.9,431.7 1588.9,431.8 1589.9,431.8 C1590.9,431.9 1591.9,432.0 1592.9,432.1 C1593.9,432.2 1594.9,432.3 1595.9,432.3 C1596.9,432.4 1597.9,432.5 1598.9,432.6 C1599.9,432.7 1600.9,432.7 1601.9,432.8 C1602.9,432.9 1603.9,433.0 1604.9,433.1 C1605.9,433.1 1606.9,433.2 1607.9,433.3 C1608.9,433.4 1609.9,433.5 1610.9,433.5 C1611.9,433.6 1612.9,433.7 1613.9,433.8 C1614.9,433.8 1615.9,433.9 1616.9,434.0 C1617.9,434.1 1618.9,434.1 1619.9,434.2 C1620.9,434.3 1621.9,434.3 1622.9,434.4 C1623.9,434.5 1624.9,434.5 1625.9,434.6 C1626.9,434.7 1627.9,434.7 1628.9,434.8 C1629.9,434.9 1630.9,434.9 1631.9,435.0 C1632.9,435.0 1633.9,435.1 1634.9,435.1 C1635.9,435.2 1636.9,435.3 1637.9,435.3 C1638.9,435.4 1639.9,435.4 1640.9,435.5 C1641.9,435.5 1642.9,435.6 1643.9,435.6 C1644.9,435.6 1645.9,435.7 1646.9,435.7 C1647.9,435.8 1648.9,435.8 1649.9,435.8 C1650.9,435.9 1651.9,435.9 1652.9,435.9 C1653.9,436.0 1654.9,436.0 1655.9,436.1 C1656.9,436.1 1657.9,436.1 1658.9,436.1 C1659.9,436.2 1660.9,436.2 1661.9,436.2 C1662.9,436.2 1663.9,436.3 1664.9,436.3 C1665.9,436.3 1666.9,436.3 1667.9,436.4 C1668.9,436.4 1669.9,436.4 1670.9,436.4 C1671.9,436.5 1672.9,436.5 1673.9,436.5 C1674.9,436.5 1675.9,436.5 1676.9,436.6 C1677.9,436.6 1678.9,436.6 1679.9,436.6 C1680.9,436.6 1681.9,436.7 1682.9,436.7 C1683.9,436.7 1684.9,436.7 1685.9,436.7 C1686.9,436.7 1687.9,436.7 1688.9,436.8 C1689.9,436.8 1690.9,436.8 1691.9,436.8 C1692.9,436.8 1693.9,436.8 1694.9,436.8 C1695.9,436.8 1696.9,436.9 1697.9,436.9 C1698.9,436.9 1699.9,436.9 1700.9,436.9 C1701.9,436.9 1702.9,436.9 1703.9,436.9 C1704.9,436.9 1705.9,436.9 1706.9,436.9 C1707.9,436.9 1708.9,436.9 1709.9,436.9 C1710.9,436.9 1711.9,436.9 1712.9,436.9 C1713.9,436.9 1714.9,436.9 1715.9,436.9 C1716.9,436.9 1717.9,436.9 1718.9,436.9 C1719.9,436.9 1720.9,436.9 1721.9,436.9 C1722.9,437.0 1723.9,436.9 1724.9,436.9 C1725.9,436.9 1726.9,436.9 1727.9,436.9 C1728.9,436.9 1729.9,436.9 1730.9,436.9 C1731.9,437.0 1732.9,437.0 1733.9,437.0 C1734.9,437.0 1735.9,437.0 1736.9,437.0 C1737.9,437.0 1738.9,437.0 1739.9,437.0 C1740.9,437.0 1741.9,437.0 1742.9,437.0 C1743.9,437.0 1744.9,437.0 1745.9,437.0 C1746.9,437.0 1747.9,436.9 1748.9,436.9 C1749.9,436.9 1750.9,436.9 1751.9,436.9 C1752.9,436.9 1753.9,436.9 1754.9,436.9 C1755.9,436.9 1756.9,436.9 1757.9,436.8 C1758.9,436.8 1759.9,436.8 1760.9,436.8 C1761.9,436.8 1762.9,436.7 1763.9,436.7 C1764.9,436.7 1765.9,436.6 1766.9,436.6 C1767.9,436.6 1768.9,436.6 1769.9,436.5 C1770.9,436.5 1771.9,436.5 1772.9,436.4 C1773.9,436.4 1774.9,436.4 1775.9,436.3 C1776.9,436.3 1777.9,436.3 1778.9,436.2 C1779.9,436.2 1780.9,436.2 1781.9,436.1 C1782.9,436.1 1783.9,436.1 1784.9,436.0 C1785.9,436.0 1786.9,436.0 1787.9,435.9 C1788.9,435.9 1789.9,435.9 1790.9,435.9 C1791.9,435.8 1792.9,435.8 1793.9,435.8 C1794.9,435.8 1795.9,435.7 1796.9,435.7 C1797.9,435.7 1798.9,435.7 1799.9,435.7 C1800.9,435.7 1801.9,435.7 1802.9,435.6 C1803.9,435.6 1804.9,435.6 1805.9,435.6 C1806.9,435.6 1807.9,435.6 1808.9,435.6 C1809.9,435.6 1810.9,435.6 1811.9,435.6 C1812.9,435.6 1813.9,435.6 1814.9,435.6 C1815.9,435.6 1816.9,435.6 1817.9,435.6 C1818.9,435.6 1819.9,435.7 1820.9,435.7 C1821.9,435.7 1822.9,435.7 1823.9,435.7 C1824.9,435.7 1825.9,435.7 1826.9,435.8 C1827.9,435.8 1828.9,435.8 1829.9,435.8 C1830.9,435.8 1831.9,435.8 1832.9,435.9 C1833.9,435.9 1834.9,435.9 1835.9,435.9 C1836.9,436.0 1837.9,436.0 1838.9,436.0 C1839.9,436.0 1840.9,436.1 1841.9,436.1 C1842.9,436.1 1843.9,436.1 1844.9,436.2 C1845.9,436.2 1846.9,436.2 1847.9,436.3 C1848.9,436.3 1849.9,436.3 1850.9,436.4 C1851.9,436.4 1852.9,436.4 1853.9,436.4 C1854.9,436.5 1855.9,436.5 1856.9,436.5 C1857.9,436.6 1858.9,436.6 1859.9,436.6 C1860.9,436.7 1861.9,436.7 1862.9,436.7 C1863.9,436.8 1864.9,436.8 1865.9,436.8 C1866.9,436.9 1867.9,436.9 1868.9,436.9 C1869.9,436.9 1870.9,437.0 1871.9,437.0 C1872.9,437.0 1873.9,437.1 1874.9,437.1 C1875.9,437.1 1876.9,437.1 1877.9,437.2 C1878.9,437.2 1879.9,437.2 1880.9,437.2 C1881.9,437.3 1882.9,437.3 1883.9,437.3 C1884.9,437.3 1885.9,437.4 1886.9,437.4 C1887.9,437.4 1888.9,437.4 1889.9,437.5 C1890.9,437.5 1891.9,437.5 1892.9,437.5 C1893.9,437.5 1894.9,437.6 1895.9,437.6 C1896.9,437.6 1897.9,437.6 1898.9,437.7 C1899.9,437.7 1900.9,437.7 1901.9,437.7 C1902.9,437.7 1903.9,437.8 1904.9,437.8 C1905.9,437.8 1907.1,437.8 1907.9,437.9 C1908.8,437.9 1909.7,437.9 1910.0,437.9" fill="none" stroke="#ed7d31" stroke-width="7.5" stroke-linecap="round" stroke-linejoin="round"/>
<path d="M332.9,680.5 C333.4,680.5 334.9,680.6 335.9,680.6 C336.9,680.7 337.9,680.7 338.9,680.8 C339.9,680.8 340.9,680.8 341.9,680.9 C342.9,680.9 343.9,680.9 344.9,681.0 C345.9,681.0 346.9,681.1 347.9,681.1 C348.9,681.1 349.9,681.2 350.9,681.2 C351.9,681.2 352.9,681.3 353.9,681.3 C354.9,681.3 355.9,681.4 356.9,681.4 C357.9,681.4 358.9,681.5 359.9,681.5 C360.9,681.5 361.9,681.6 362.9,681.6 C363.9,681.6 364.9,681.6 365.9,681.7 C366.9,681.7 367.9,681.7 368.9,681.7 C369.9,681.7 370.9,681.8 371.9,681.8 C372.9,681.8 373.9,681.8 374.9,681.8 C375.9,681.8 376.9,681.9 377.9,681.9 C378.9,681.9 379.9,681.9 380.9,681.9 C381.9,681.9 382.9,681.9 383.9,681.9 C384.9,681.9 385.9,681.9 386.9,681.9 C387.9,681.9 388.9,681.9 389.9,681.9 C390.9,681.8 391.9,681.8 392.9,681.8 C393.9,681.8 394.9,681.8 395.9,681.8 C396.9,681.7 397.9,681.7 398.9,681.7 C399.9,681.6 400.9,681.6 401.9,681.6 C402.9,681.5 403.9,681.5 404.9,681.5 C405.9,681.4 406.9,681.4 407.9,681.3 C408.9,681.3 409.9,681.2 410.9,681.1 C411.9,681.1 412.9,681.0 413.9,680.9 C414.9,680.8 415.9,680.7 416.9,680.7 C417.9,680.6 418.9,680.5 419.9,680.4 C420.9,680.3 421.9,680.2 422.9,680.1 C423.9,679.9 424.9,679.8 425.9,679.7 C426.9,679.6 427.9,679.4 428.9,679.3 C429.9,679.2 430.9,679.0 431.9,678.9 C432.9,678.7 433.9,678.6 434.9,678.4 C435.9,678.2 436.9,678.1 437.9,677.9 C438.9,677.7 439.9,677.6 440.9,677.4 C441.9,677.2 442.9,677.0 443.9,676.8 C444.9,676.6 445.9,676.4 446.9,676.2 C447.9,676.0 448.9,675.8 449.9,675.6 C450.9,675.4 451.9,675.2 452.9,675.0 C453.9,674.8 454.9,674.5 455.9,674.3 C456.9,674.1 457.9,673.8 458.9,673.6 C459.9,673.4 460.9,673.1 461.9,672.9 C462.9,672.6 463.9,672.4 464.9,672.1 C465.9,671.8 466.9,671.6 467.9,671.3 C468.9,671.0 469.9,670.8 470.9,670.5 C471.9,670.2 472.9,669.9 473.9,669.6 C474.9,669.3 475.9,669.0 476.9,668.7 C477.9,668.4 478.9,668.1 479.9,667.8 C480.9,667.4 481.9,667.1 482.9,666.8 C483.9,666.4 484.9,666.1 485.9,665.7 C486.9,665.4 487.9,665.0 488.9,664.7 C489.9,664.3 490.9,663.9 491.9,663.6 C492.9,663.2 493.9,662.8 494.9,662.4 C495.9,662.0 496.9,661.6 497.9,661.2 C498.9,660.8 499.9,660.4 500.9,660.0 C501.9,659.5 502.9,659.1 503.9,658.7 C504.9,658.2 505.9,657.8 506.9,657.3 C507.9,656.9 508.9,656.4 509.9,656.0 C510.9,655.5 511.9,655.0 512.9,654.5 C513.9,654.1 514.9,653.6 515.9,653.1 C516.9,652.6 517.9,652.2 518.9,651.7 C519.9,651.2 520.9,650.7 521.9,650.2 C522.9,649.7 523.9,649.2 524.9,648.8 C525.9,648.3 526.9,647.8 527.9,647.3 C528.9,646.8 529.9,646.4 530.9,645.9 C531.9,645.4 532.9,644.9 533.9,644.5 C534.9,644.0 535.9,643.5 536.9,643.1 C537.9,642.6 538.9,642.2 539.9,641.7 C540.9,641.3 541.9,640.8 542.9,640.4 C543.9,639.9 544.9,639.5 545.9,639.0 C546.9,638.6 547.9,638.2 548.9,637.7 C549.9,637.3 550.9,636.8 551.9,636.4 C552.9,636.0 553.9,635.5 554.9,635.1 C555.9,634.6 556.9,634.2 557.9,633.8 C558.9,633.3 559.9,632.9 560.9,632.5 C561.9,632.0 562.9,631.6 563.9,631.2 C564.9,630.7 565.9,630.3 566.9,629.9 C567.9,629.4 568.9,629.0 569.9,628.5 C570.9,628.1 571.9,627.7 572.9,627.2 C573.9,626.8 574.9,626.3 575.9,625.9 C576.9,625.4 577.9,625.0 578.9,624.5 C579.9,624.1 580.9,623.6 581.9,623.2 C582.9,622.7 583.9,622.3 584.9,621.8 C585.9,621.4 586.9,620.9 587.9,620.4 C588.9,620.0 589.9,619.5 590.9,619.1 C591.9,618.6 592.9,618.1 593.9,617.7 C594.9,617.2 595.9,616.7 596.9,616.3 C597.9,615.8 598.9,615.3 599.9,614.9 C600.9,614.4 601.9,613.9 602.9,613.5 C603.9,613.0 604.9,612.5 605.9,612.1 C606.9,611.6 607.9,611.1 608.9,610.7 C609.9,610.2 610.9,609.7 611.9,609.3 C612.9,608.8 613.9,608.3 614.9,607.9 C615.9,607.4 616.9,606.9 617.9,606.4 C618.9,606.0 619.9,605.5 620.9,605.0 C621.9,604.6 622.9,604.1 623.9,603.6 C624.9,603.1 625.9,602.7 626.9,602.2 C627.9,601.7 628.9,601.2 629.9,600.8 C630.9,600.3 631.9,599.8 632.9,599.3 C633.9,598.9 634.9,598.4 635.9,597.9 C636.9,597.4 637.9,596.9 638.9,596.5 C639.9,596.0 640.9,595.5 641.9,595.0 C642.9,594.5 643.9,594.0 644.9,593.5 C645.9,593.1 646.9,592.6 647.9,592.1 C648.9,591.6 649.9,591.1 650.9,590.6 C651.9,590.1 652.9,589.6 653.9,589.1 C654.9,588.6 655.9,588.1 656.9,587.6 C657.9,587.1 658.9,586.6 659.9,586.1 C660.9,585.6 661.9,585.1 662.9,584.6 C663.9,584.1 664.9,583.6 665.9,583.0 C666.9,582.5 667.9,582.0 668.9,581.5 C669.9,581.0 670.9,580.5 671.9,579.9 C672.9,579.4 673.9,578.9 674.9,578.4 C675.9,577.8 676.9,577.3 677.9,576.8 C678.9,576.3 679.9,575.7 680.9,575.2 C681.9,574.7 682.9,574.1 683.9,573.6 C684.9,573.0 685.9,572.5 686.9,572.0 C687.9,571.4 688.9,570.9 689.9,570.3 C690.9,569.8 691.9,569.2 692.9,568.7 C693.9,568.1 694.9,567.6 695.9,567.0 C696.9,566.5 697.9,565.9 698.9,565.4 C699.9,564.8 700.9,564.2 701.9,563.7 C702.9,563.1 703.9,562.5 704.9,561.9 C705.9,561.3 706.9,560.8 707.9,560.2 C708.9,559.6 709.9,559.0 710.9,558.4 C711.9,557.8 712.9,557.1 713.9,556.5 C714.9,555.9 715.9,555.3 716.9,554.6 C717.9,554.0 718.9,553.4 719.9,552.7 C720.9,552.1 721.9,551.4 722.9,550.8 C723.9,550.1 724.9,549.5 725.9,548.8 C726.9,548.2 727.9,547.5 728.9,546.8 C729.9,546.1 730.9,545.5 731.9,544.8 C732.9,544.1 733.9,543.4 734.9,542.7 C735.9,542.0 736.9,541.3 737.9,540.6 C738.9,539.9 739.9,539.2 740.9,538.5 C741.9,537.8 742.9,537.1 743.9,536.4 C744.9,535.6 745.9,534.9 746.9,534.2 C747.9,533.5 748.9,532.8 749.9,532.1 C750.9,531.4 751.9,530.6 752.9,529.9 C753.9,529.2 754.9,528.5 755.9,527.8 C756.9,527.1 757.9,526.5 758.9,525.8 C759.9,525.1 760.9,524.4 761.9,523.8 C762.9,523.1 763.9,522.4 764.9,521.8 C765.9,521.1 766.9,520.5 767.9,519.9 C768.9,519.3 769.9,518.6 770.9,518.0 C771.9,517.5 772.9,516.9 773.9,516.3 C774.9,515.7 775.9,515.2 776.9,514.6 C777.9,514.1 778.9,513.6 779.9,513.1 C780.9,512.6 781.9,512.1 782.9,511.6 C783.9,511.2 784.9,510.7 785.9,510.3 C786.9,509.9 787.9,509.4 788.9,509.0 C789.9,508.6 790.9,508.2 791.9,507.9 C792.9,507.5 793.9,507.1 794.9,506.8 C795.9,506.4 796.9,506.1 797.9,505.8 C798.9,505.4 799.9,505.1 800.9,504.8 C801.9,504.5 802.9,504.3 803.9,504.0 C804.9,503.7 805.9,503.4 806.9,503.2 C807.9,502.9 808.9,502.7 809.9,502.5 C810.9,502.2 811.9,502.0 812.9,501.8 C813.9,501.6 814.9,501.4 815.9,501.2 C816.9,501.0 817.9,500.8 818.9,500.6 C819.9,500.5 820.9,500.3 821.9,500.1 C822.9,500.0 823.9,499.8 824.9,499.6 C825.9,499.5 826.9,499.3 827.9,499.2 C828.9,499.1 829.9,498.9 830.9,498.8 C831.9,498.7 832.9,498.6 833.9,498.5 C834.9,498.3 835.9,498.2 836.9,498.1 C837.9,498.0 838.9,497.9 839.9,497.9 C840.9,497.8 841.9,497.7 842.9,497.6 C843.9,497.5 844.9,497.4 845.9,497.3 C846.9,497.3 847.9,497.2 848.9,497.1 C849.9,497.1 850.9,497.0 851.9,496.9 C852.9,496.9 853.9,496.8 854.9,496.8 C855.9,496.7 856.9,496.7 857.9,496.6 C858.9,496.6 859.9,496.5 860.9,496.5 C861.9,496.4 862.9,496.4 863.9,496.4 C864.9,496.4 865.9,496.3 866.9,496.3 C867.9,496.3 868.9,496.3 869.9,496.2 C870.9,496.2 871.9,496.2 872.9,496.2 C873.9,496.2 874.9,496.2 875.9,496.2 C876.9,496.2 877.9,496.2 878.9,496.2 C879.9,496.2 880.9,496.2 881.9,496.2 C882.9,496.3 883.9,496.3 884.9,496.3 C885.9,496.3 886.9,496.3 887.9,496.4 C888.9,496.4 889.9,496.4 890.9,496.4 C891.9,496.5 892.9,496.5 893.9,496.5 C894.9,496.6 895.9,496.6 896.9,496.6 C897.9,496.7 898.9,496.7 899.9,496.8 C900.9,496.8 901.9,496.9 902.9,496.9 C903.9,496.9 904.9,497.0 905.9,497.0 C906.9,497.1 907.9,497.1 908.9,497.2 C909.9,497.2 910.9,497.3 911.9,497.3 C912.9,497.3 913.9,497.4 914.9,497.4 C915.9,497.5 916.9,497.5 917.9,497.6 C918.9,497.6 919.9,497.6 920.9,497.7 C921.9,497.7 922.9,497.8 923.9,497.8 C924.9,497.9 925.9,497.9 926.9,497.9 C927.9,498.0 928.9,498.0 929.9,498.1 C930.9,498.1 931.9,498.1 932.9,498.2 C933.9,498.2 934.9,498.3 935.9,498.3 C936.9,498.4 937.9,498.4 938.9,498.4 C939.9,498.5 940.9,498.5 941.9,498.6 C942.9,498.6 943.9,498.7 944.9,498.7 C945.9,498.8 946.9,498.8 947.9,498.9 C948.9,498.9 949.9,499.0 950.9,499.0 C951.9,499.1 952.9,499.1 953.9,499.2 C954.9,499.2 955.9,499.3 956.9,499.4 C957.9,499.4 958.9,499.5 959.9,499.6 C960.9,499.6 961.9,499.7 962.9,499.8 C963.9,499.8 964.9,499.9 965.9,500.0 C966.9,500.0 967.9,500.1 968.9,500.2 C969.9,500.3 970.9,500.3 971.9,500.4 C972.9,500.5 973.9,500.6 974.9,500.7 C975.9,500.7 976.9,500.8 977.9,500.9 C978.9,501.0 979.9,501.1 980.9,501.2 C981.9,501.3 982.9,501.4 983.9,501.4 C984.9,501.5 985.9,501.6 986.9,501.7 C987.9,501.8 988.9,501.9 989.9,502.0 C990.9,502.1 991.9,502.2 992.9,502.2 C993.9,502.3 994.9,502.4 995.9,502.5 C996.9,502.6 997.9,502.7 998.9,502.8 C999.9,502.9 1000.9,502.9 1001.9,503.0 C1002.9,503.1 1003.9,503.2 1004.9,503.3 C1005.9,503.4 1006.9,503.4 1007.9,503.5 C1008.9,503.6 1009.9,503.7 1010.9,503.8 C1011.9,503.8 1012.9,503.9 1013.9,504.0 C1014.9,504.1 1015.9,504.1 1016.9,504.2 C1017.9,504.3 1018.9,504.3 1019.9,504.4 C1020.9,504.5 1021.9,504.5 1022.9,504.6 C1023.9,504.6 1024.9,504.7 1025.9,504.8 C1026.9,504.8 1027.9,504.9 1028.9,504.9 C1029.9,505.0 1030.9,505.0 1031.9,505.1 C1032.9,505.2 1033.9,505.2 1034.9,505.3 C1035.9,505.3 1036.9,505.4 1037.9,505.4 C1038.9,505.5 1039.9,505.5 1040.9,505.6 C1041.9,505.6 1042.9,505.6 1043.9,505.7 C1044.9,505.7 1045.9,505.8 1046.9,505.8 C1047.9,505.9 1048.9,505.9 1049.9,505.9 C1050.9,506.0 1051.9,506.0 1052.9,506.1 C1053.9,506.1 1054.9,506.1 1055.9,506.2 C1056.9,506.2 1057.9,506.2 1058.9,506.3 C1059.9,506.3 1060.9,506.3 1061.9,506.4 C1062.9,506.4 1063.9,506.4 1064.9,506.5 C1065.9,506.5 1066.9,506.5 1067.9,506.6 C1068.9,506.6 1069.9,506.6 1070.9,506.6 C1071.9,506.7 1072.9,506.7 1073.9,506.7 C1074.9,506.8 1075.9,506.8 1076.9,506.8 C1077.9,506.8 1078.9,506.9 1079.9,506.9 C1080.9,506.9 1081.9,506.9 1082.9,507.0 C1083.9,507.0 1084.9,507.0 1085.9,507.0 C1086.9,507.1 1087.9,507.1 1088.9,507.1 C1089.9,507.1 1090.9,507.1 1091.9,507.2 C1092.9,507.2 1093.9,507.2 1094.9,507.2 C1095.9,507.2 1096.9,507.3 1097.9,507.3 C1098.9,507.3 1099.9,507.3 1100.9,507.3 C1101.9,507.3 1102.9,507.3 1103.9,507.4 C1104.9,507.4 1105.9,507.4 1106.9,507.4 C1107.9,507.4 1108.9,507.4 1109.9,507.4 C1110.9,507.5 1111.9,507.5 1112.9,507.5 C1113.9,507.5 1114.9,507.5 1115.9,507.5 C1116.9,507.5 1117.9,507.5 1118.9,507.5 C1119.9,507.5 1120.9,507.6 1121.9,507.6 C1122.9,507.6 1123.9,507.6 1124.9,507.6 C1125.9,507.6 1126.9,507.6 1127.9,507.6 C1128.9,507.6 1129.9,507.6 1130.9,507.6 C1131.9,507.6 1132.9,507.6 1133.9,507.6 C1134.9,507.7 1135.9,507.7 1136.9,507.7 C1137.9,507.7 1138.9,507.7 1139.9,507.7 C1140.9,507.7 1141.9,507.7 1142.9,507.7 C1143.9,507.7 1144.9,507.7 1145.9,507.7 C1146.9,507.7 1147.9,507.8 1148.9,507.8 C1149.9,507.8 1150.9,507.8 1151.9,507.8 C1152.9,507.8 1153.9,507.8 1154.9,507.8 C1155.9,507.8 1156.9,507.8 1157.9,507.9 C1158.9,507.9 1159.9,507.9 1160.9,507.9 C1161.9,507.9 1162.9,507.9 1163.9,507.9 C1164.9,507.9 1165.9,507.9 1166.9,508.0 C1167.9,508.0 1168.9,508.0 1169.9,508.0 C1170.9,508.0 1171.9,508.0 1172.9,508.1 C1173.9,508.1 1174.9,508.1 1175.9,508.1 C1176.9,508.1 1177.9,508.1 1178.9,508.2 C1179.9,508.2 1180.9,508.2 1181.9,508.2 C1182.9,508.3 1183.9,508.3 1184.9,508.3 C1185.9,508.3 1186.9,508.3 1187.9,508.4 C1188.9,508.4 1189.9,508.4 1190.9,508.4 C1191.9,508.5 1192.9,508.5 1193.9,508.5 C1194.9,508.6 1195.9,508.6 1196.9,508.6 C1197.9,508.7 1198.9,508.7 1199.9,508.7 C1200.9,508.8 1201.9,508.8 1202.9,508.8 C1203.9,508.9 1204.9,508.9 1205.9,508.9 C1206.9,509.0 1207.9,509.0 1208.9,509.1 C1209.9,509.1 1210.9,509.2 1211.9,509.2 C1212.9,509.2 1213.9,509.3 1214.9,509.3 C1215.9,509.4 1216.9,509.4 1217.9,509.5 C1218.9,509.5 1219.9,509.6 1220.9,509.6 C1221.9,509.6 1222.9,509.7 1223.9,509.8 C1224.9,509.8 1225.9,509.8 1226.9,509.9 C1227.9,509.9 1228.9,510.0 1229.9,510.0 C1230.9,510.1 1231.9,510.1 1232.9,510.2 C1233.9,510.2 1234.9,510.3 1235.9,510.3 C1236.9,510.4 1237.9,510.4 1238.9,510.5 C1239.9,510.5 1240.9,510.6 1241.9,510.6 C1242.9,510.7 1243.9,510.7 1244.9,510.7 C1245.9,510.8 1246.9,510.8 1247.9,510.9 C1248.9,510.9 1249.9,511.0 1250.9,511.0 C1251.9,511.1 1252.9,511.1 1253.9,511.1 C1254.9,511.2 1255.9,511.2 1256.9,511.3 C1257.9,511.3 1258.9,511.3 1259.9,511.4 C1260.9,511.4 1261.9,511.5 1262.9,511.5 C1263.9,511.5 1264.9,511.6 1265.9,511.6 C1266.9,511.6 1267.9,511.7 1268.9,511.7 C1269.9,511.7 1270.9,511.8 1271.9,511.8 C1272.9,511.9 1273.9,511.9 1274.9,511.9 C1275.9,511.9 1276.9,512.0 1277.9,512.0 C1278.9,512.0 1279.9,512.1 1280.9,512.1 C1281.9,512.1 1282.9,512.2 1283.9,512.2 C1284.9,512.2 1285.9,512.2 1286.9,512.3 C1287.9,512.3 1288.9,512.3 1289.9,512.3 C1290.9,512.4 1291.9,512.4 1292.9,512.4 C1293.9,512.4 1294.9,512.5 1295.9,512.5 C1296.9,512.5 1297.9,512.5 1298.9,512.5 C1299.9,512.5 1300.9,512.6 1301.9,512.6 C1302.9,512.6 1303.9,512.6 1304.9,512.6 C1305.9,512.6 1306.9,512.6 1307.9,512.7 C1308.9,512.7 1309.9,512.7 1310.9,512.7 C1311.9,512.7 1312.9,512.7 1313.9,512.7 C1314.9,512.7 1315.9,512.7 1316.9,512.7 C1317.9,512.7 1318.9,512.7 1319.9,512.7 C1320.9,512.7 1321.9,512.7 1322.9,512.6 C1323.9,512.6 1324.9,512.6 1325.9,512.6 C1326.9,512.6 1327.9,512.5 1328.9,512.5 C1329.9,512.5 1330.9,512.5 1331.9,512.4 C1332.9,512.4 1333.9,512.4 1334.9,512.3 C1335.9,512.3 1336.9,512.2 1337.9,512.2 C1338.9,512.1 1339.9,512.1 1340.9,512.0 C1341.9,511.9 1342.9,511.9 1343.9,511.8 C1344.9,511.7 1345.9,511.7 1346.9,511.6 C1347.9,511.5 1348.9,511.4 1349.9,511.3 C1350.9,511.2 1351.9,511.1 1352.9,511.0 C1353.9,510.9 1354.9,510.8 1355.9,510.7 C1356.9,510.6 1357.9,510.5 1358.9,510.4 C1359.9,510.3 1360.9,510.1 1361.9,510.0 C1362.9,509.9 1363.9,509.7 1364.9,509.6 C1365.9,509.5 1366.9,509.3 1367.9,509.1 C1368.9,509.0 1369.9,508.8 1370.9,508.7 C1371.9,508.5 1372.9,508.3 1373.9,508.1 C1374.9,508.0 1375.9,507.8 1376.9,507.6 C1377.9,507.4 1378.9,507.2 1379.9,507.0 C1380.9,506.8 1381.9,506.6 1382.9,506.4 C1383.9,506.2 1384.9,505.9 1385.9,505.7 C1386.9,505.5 1387.9,505.2 1388.9,505.0 C1389.9,504.8 1390.9,504.5 1391.9,504.2 C1392.9,504.0 1393.9,503.7 1394.9,503.5 C1395.9,503.2 1396.9,502.9 1397.9,502.6 C1398.9,502.3 1399.9,502.1 1400.9,501.8 C1401.9,501.5 1402.9,501.2 1403.9,500.9 C1404.9,500.5 1405.9,500.2 1406.9,499.9 C1407.9,499.6 1408.9,499.2 1409.9,498.9 C1410.9,498.6 1411.9,498.2 1412.9,497.9 C1413.9,497.5 1414.9,497.2 1415.9,496.8 C1416.9,496.5 1417.9,496.1 1418.9,495.7 C1419.9,495.3 1420.9,495.0 1421.9,494.6 C1422.9,494.2 1423.9,493.8 1424.9,493.4 C1425.9,493.0 1426.9,492.6 1427.9,492.2 C1428.9,491.8 1429.9,491.4 1430.9,491.0 C1431.9,490.5 1432.9,490.1 1433.9,489.7 C1434.9,489.2 1435.9,488.8 1436.9,488.4 C1437.9,487.9 1438.9,487.5 1439.9,487.0 C1440.9,486.6 1441.9,486.1 1442.9,485.6 C1443.9,485.2 1444.9,484.7 1445.9,484.2 C1446.9,483.8 1447.9,483.3 1448.9,482.8 C1449.9,482.4 1450.9,481.9 1451.9,481.4 C1452.9,480.9 1453.9,480.4 1454.9,479.9 C1455.9,479.5 1456.9,479.0 1457.9,478.5 C1458.9,478.0 1459.9,477.5 1460.9,477.0 C1461.9,476.5 1462.9,476.0 1463.9,475.5 C1464.9,475.0 1465.9,474.5 1466.9,474.0 C1467.9,473.5 1468.9,473.0 1469.9,472.5 C1470.9,472.0 1471.9,471.5 1472.9,471.0 C1473.9,470.5 1474.9,470.0 1475.9,469.5 C1476.9,469.0 1477.9,468.5 1478.9,468.0 C1479.9,467.5 1480.9,467.1 1481.9,466.6 C1482.9,466.1 1483.9,465.6 1484.9,465.1 C1485.9,464.6 1486.9,464.1 1487.9,463.7 C1488.9,463.2 1489.9,462.7 1490.9,462.2 C1491.9,461.8 1492.9,461.3 1493.9,460.8 C1494.9,460.4 1495.9,459.9 1496.9,459.5 C1497.9,459.0 1498.9,458.6 1499.9,458.1 C1500.9,457.7 1501.9,457.2 1502.9,456.8 C1503.9,456.4 1504.9,456.0 1505.9,455.6 C1506.9,455.1 1507.9,454.7 1508.9,454.3 C1509.9,453.9 1510.9,453.5 1511.9,453.1 C1512.9,452.8 1513.9,452.4 1514.9,452.0 C1515.9,451.7 1516.9,451.3 1517.9,450.9 C1518.9,450.6 1519.9,450.2 1520.9,449.9 C1521.9,449.6 1522.9,449.3 1523.9,449.0 C1524.9,448.6 1525.9,448.4 1526.9,448.1 C1527.9,447.8 1528.9,447.5 1529.9,447.2 C1530.9,446.9 1531.9,446.7 1532.9,446.4 C1533.9,446.2 1534.9,445.9 1535.9,445.7 C1536.9,445.4 1537.9,445.2 1538.9,445.0 C1539.9,444.8 1540.9,444.6 1541.9,444.4 C1542.9,444.2 1543.9,444.0 1544.9,443.8 C1545.9,443.6 1546.9,443.5 1547.9,443.3 C1548.9,443.1 1549.9,443.0 1550.9,442.8 C1551.9,442.7 1552.9,442.5 1553.9,442.4 C1554.9,442.3 1555.9,442.2 1556.9,442.1 C1557.9,441.9 1558.9,441.8 1559.9,441.8 C1560.9,441.7 1561.9,441.6 1562.9,441.5 C1563.9,441.4 1564.9,441.3 1565.9,441.3 C1566.9,441.2 1567.9,441.2 1568.9,441.1 C1569.9,441.1 1570.9,441.0 1571.9,441.0 C1572.9,441.0 1573.9,440.9 1574.9,440.9 C1575.9,440.9 1576.9,440.9 1577.9,440.9 C1578.9,440.9 1579.9,440.9 1580.9,440.9 C1581.9,441.0 1582.9,441.0 1583.9,441.0 C1584.9,441.0 1585.9,441.1 1586.9,441.1 C1587.9,441.2 1588.9,441.2 1589.9,441.3 C1590.9,441.3 1591.9,441.4 1592.9,441.5 C1593.9,441.6 1594.9,441.6 1595.9,441.7 C1596.9,441.8 1597.9,441.9 1598.9,442.0 C1599.9,442.1 1600.9,442.2 1601.9,442.3 C1602.9,442.4 1603.9,442.6 1604.9,442.7 C1605.9,442.8 1606.9,442.9 1607.9,443.1 C1608.9,443.2 1609.9,443.4 1610.9,443.5 C1611.9,443.7 1612.9,443.8 1613.9,444.0 C1614.9,444.2 1615.9,444.3 1616.9,444.5 C1617.9,444.7 1618.9,444.9 1619.9,445.1 C1620.9,445.2 1621.9,445.4 1622.9,445.6 C1623.9,445.8 1624.9,446.0 1625.9,446.2 C1626.9,446.4 1627.9,446.6 1628.9,446.9 C1629.9,447.1 1630.9,447.3 1631.9,447.5 C1632.9,447.7 1633.9,447.9 1634.9,448.2 C1635.9,448.4 1636.9,448.6 1637.9,448.9 C1638.9,449.1 1639.9,449.3 1640.9,449.6 C1641.9,449.8 1642.9,450.0 1643.9,450.2 C1644.9,450.5 1645.9,450.7 1646.9,450.9 C1647.9,451.2 1648.9,451.4 1649.9,451.7 C1650.9,451.9 1651.9,452.1 1652.9,452.4 C1653.9,452.6 1654.9,452.8 1655.9,453.1 C1656.9,453.3 1657.9,453.5 1658.9,453.8 C1659.9,454.0 1660.9,454.2 1661.9,454.5 C1662.9,454.7 1663.9,454.9 1664.9,455.1 C1665.9,455.4 1666.9,455.6 1667.9,455.8 C1668.9,456.1 1669.9,456.3 1670.9,456.5 C1671.9,456.7 1672.9,456.9 1673.9,457.2 C1674.9,457.4 1675.9,457.6 1676.9,457.8 C1677.9,458.0 1678.9,458.2 1679.9,458.5 C1680.9,458.7 1681.9,458.9 1682.9,459.1 C1683.9,459.3 1684.9,459.5 1685.9,459.8 C1686.9,460.0 1687.9,460.2 1688.9,460.4 C1689.9,460.6 1690.9,460.8 1691.9,461.0 C1692.9,461.2 1693.9,461.5 1694.9,461.7 C1695.9,461.9 1696.9,462.1 1697.9,462.3 C1698.9,462.5 1699.9,462.7 1700.9,462.9 C1701.9,463.1 1702.9,463.3 1703.9,463.5 C1704.9,463.8 1705.9,464.0 1706.9,464.2 C1707.9,464.4 1708.9,464.6 1709.9,464.8 C1710.9,465.0 1711.9,465.2 1712.9,465.4 C1713.9,465.6 1714.9,465.8 1715.9,466.0 C1716.9,466.2 1717.9,466.5 1718.9,466.7 C1719.9,466.9 1720.9,467.1 1721.9,467.3 C1722.9,467.5 1723.9,467.7 1724.9,467.9 C1725.9,468.1 1726.9,468.3 1727.9,468.5 C1728.9,468.7 1729.9,469.0 1730.9,469.2 C1731.9,469.4 1732.9,469.6 1733.9,469.8 C1734.9,470.0 1735.9,470.2 1736.9,470.4 C1737.9,470.6 1738.9,470.8 1739.9,471.0 C1740.9,471.2 1741.9,471.4 1742.9,471.6 C1743.9,471.8 1744.9,472.0 1745.9,472.2 C1746.9,472.4 1747.9,472.6 1748.9,472.9 C1749.9,473.1 1750.9,473.3 1751.9,473.5 C1752.9,473.7 1753.9,473.9 1754.9,474.1 C1755.9,474.3 1756.9,474.5 1757.9,474.7 C1758.9,474.9 1759.9,475.1 1760.9,475.3 C1761.9,475.5 1762.9,475.7 1763.9,475.9 C1764.9,476.1 1765.9,476.3 1766.9,476.5 C1767.9,476.7 1768.9,476.9 1769.9,477.1 C1770.9,477.3 1771.9,477.5 1772.9,477.7 C1773.9,477.9 1774.9,478.1 1775.9,478.3 C1776.9,478.5 1777.9,478.7 1778.9,478.9 C1779.9,479.1 1780.9,479.3 1781.9,479.5 C1782.9,479.7 1783.9,479.9 1784.9,480.1 C1785.9,480.3 1786.9,480.5 1787.9,480.7 C1788.9,480.9 1789.9,481.1 1790.9,481.3 C1791.9,481.5 1792.9,481.7 1793.9,481.9 C1794.9,482.1 1795.9,482.3 1796.9,482.5 C1797.9,482.7 1798.9,482.9 1799.9,483.1 C1800.9,483.3 1801.9,483.5 1802.9,483.7 C1803.9,483.9 1804.9,484.1 1805.9,484.3 C1806.9,484.5 1807.9,484.7 1808.9,484.9 C1809.9,485.1 1810.9,485.3 1811.9,485.5 C1812.9,485.7 1813.9,485.9 1814.9,486.1 C1815.9,486.4 1816.9,486.6 1817.9,486.8 C1818.9,486.9 1819.9,487.2 1820.9,487.4 C1821.9,487.6 1822.9,487.8 1823.9,487.9 C1824.9,488.1 1825.9,488.4 1826.9,488.6 C1827.9,488.7 1828.9,488.9 1829.9,489.1 C1830.9,489.3 1831.9,489.5 1832.9,489.7 C1833.9,489.9 1834.9,490.1 1835.9,490.3 C1836.9,490.5 1837.9,490.7 1838.9,490.9 C1839.9,491.0 1840.9,491.2 1841.9,491.4 C1842.9,491.6 1843.9,491.8 1844.9,491.9 C1845.9,492.1 1846.9,492.3 1847.9,492.5 C1848.9,492.7 1849.9,492.8 1850.9,493.0 C1851.9,493.2 1852.9,493.4 1853.9,493.5 C1854.9,493.7 1855.9,493.9 1856.9,494.0 C1857.9,494.2 1858.9,494.4 1859.9,494.5 C1860.9,494.7 1861.9,494.9 1862.9,495.0 C1863.9,495.2 1864.9,495.3 1865.9,495.5 C1866.9,495.7 1867.9,495.8 1868.9,496.0 C1869.9,496.2 1870.9,496.3 1871.9,496.5 C1872.9,496.6 1873.9,496.8 1874.9,496.9 C1875.9,497.1 1876.9,497.3 1877.9,497.4 C1878.9,497.6 1879.9,497.7 1880.9,497.9 C1881.9,498.0 1882.9,498.2 1883.9,498.4 C1884.9,498.5 1885.9,498.7 1886.9,498.8 C1887.9,499.0 1888.9,499.1 1889.9,499.3 C1890.9,499.5 1891.9,499.6 1892.9,499.8 C1893.9,499.9 1894.9,500.1 1895.9,500.2 C1896.9,500.4 1897.9,500.6 1898.9,500.7 C1899.9,500.9 1900.9,501.0 1901.9,501.2 C1902.9,501.4 1903.9,501.5 1904.9,501.7 C1905.9,501.8 1907.1,502.0 1907.9,502.2 C1908.8,502.3 1909.7,502.4 1910.0,502.5" fill="none" stroke="#4472c4" stroke-width="7.5" stroke-linecap="round" stroke-linejoin="round" stroke-dasharray="20.5 26.88" stroke-dashoffset="0.3"/>
<path d="M332.9,681.0 C333.4,681.0 334.9,681.0 335.9,681.1 C336.9,681.1 337.9,681.1 338.9,681.1 C339.9,681.1 340.9,681.2 341.9,681.2 C342.9,681.2 343.9,681.2 344.9,681.2 C345.9,681.2 346.9,681.3 347.9,681.3 C348.9,681.3 349.9,681.3 350.9,681.4 C351.9,681.4 352.9,681.4 353.9,681.4 C354.9,681.4 355.9,681.5 356.9,681.5 C357.9,681.5 358.9,681.5 359.9,681.5 C360.9,681.6 361.9,681.6 362.9,681.6 C363.9,681.6 364.9,681.7 365.9,681.7 C366.9,681.7 367.9,681.7 368.9,681.8 C369.9,681.8 370.9,681.8 371.9,681.8 C372.9,681.8 373.9,681.9 374.9,681.9 C375.9,681.9 376.9,681.9 377.9,681.9 C378.9,682.0 379.9,682.0 380.9,682.0 C381.9,682.0 382.9,682.0 383.9,682.0 C384.9,682.1 385.9,682.1 386.9,682.1 C387.9,682.1 388.9,682.1 389.9,682.1 C390.9,682.1 391.9,682.2 392.9,682.2 C393.9,682.2 394.9,682.2 395.9,682.2 C396.9,682.2 397.9,682.2 398.9,682.2 C399.9,682.2 400.9,682.2 401.9,682.1 C402.9,682.1 403.9,682.1 404.9,682.1 C405.9,682.1 406.9,682.0 407.9,682.0 C408.9,682.0 409.9,681.9 410.9,681.9 C411.9,681.8 412.9,681.8 413.9,681.7 C414.9,681.7 415.9,681.6 416.9,681.5 C417.9,681.4 418.9,681.3 419.9,681.2 C420.9,681.2 421.9,681.1 422.9,680.9 C423.9,680.8 424.9,680.7 425.9,680.6 C426.9,680.4 427.9,680.3 428.9,680.1 C429.9,680.0 430.9,679.9 431.9,679.7 C432.9,679.5 433.9,679.4 434.9,679.2 C435.9,679.0 436.9,678.8 437.9,678.6 C438.9,678.4 439.9,678.2 440.9,678.0 C441.9,677.8 442.9,677.6 443.9,677.4 C444.9,677.2 445.9,676.9 446.9,676.7 C447.9,676.5 448.9,676.2 449.9,676.0 C450.9,675.7 451.9,675.5 452.9,675.2 C453.9,675.0 454.9,674.7 455.9,674.5 C456.9,674.2 457.9,674.0 458.9,673.7 C459.9,673.4 460.9,673.1 461.9,672.9 C462.9,672.6 463.9,672.3 464.9,672.0 C465.9,671.7 466.9,671.4 467.9,671.1 C468.9,670.9 469.9,670.6 470.9,670.3 C471.9,670.0 472.9,669.7 473.9,669.4 C474.9,669.1 475.9,668.8 476.9,668.5 C477.9,668.2 478.9,667.9 479.9,667.6 C480.9,667.3 481.9,667.0 482.9,666.7 C483.9,666.4 484.9,666.1 485.9,665.8 C486.9,665.5 487.9,665.2 488.9,664.9 C489.9,664.6 490.9,664.3 491.9,664.0 C492.9,663.7 493.9,663.4 494.9,663.1 C495.9,662.8 496.9,662.4 497.9,662.1 C498.9,661.8 499.9,661.5 500.9,661.2 C501.9,660.9 502.9,660.6 503.9,660.2 C504.9,659.9 505.9,659.6 506.9,659.2 C507.9,658.9 508.9,658.6 509.9,658.2 C510.9,657.9 511.9,657.6 512.9,657.2 C513.9,656.9 514.9,656.5 515.9,656.2 C516.9,655.8 517.9,655.5 518.9,655.1 C519.9,654.8 520.9,654.4 521.9,654.0 C522.9,653.7 523.9,653.3 524.9,652.9 C525.9,652.5 526.9,652.2 527.9,651.8 C528.9,651.4 529.9,651.0 530.9,650.6 C531.9,650.2 532.9,649.9 533.9,649.5 C534.9,649.1 535.9,648.7 536.9,648.3 C537.9,647.9 538.9,647.5 539.9,647.1 C540.9,646.7 541.9,646.3 542.9,645.9 C543.9,645.5 544.9,645.1 545.9,644.7 C546.9,644.3 547.9,643.8 548.9,643.4 C549.9,643.0 550.9,642.6 551.9,642.2 C552.9,641.8 553.9,641.4 554.9,641.0 C555.9,640.6 556.9,640.2 557.9,639.8 C558.9,639.4 559.9,639.0 560.9,638.6 C561.9,638.2 562.9,637.8 563.9,637.4 C564.9,637.0 565.9,636.6 566.9,636.2 C567.9,635.8 568.9,635.5 569.9,635.1 C570.9,634.7 571.9,634.3 572.9,633.9 C573.9,633.6 574.9,633.2 575.9,632.8 C576.9,632.4 577.9,632.1 578.9,631.7 C579.9,631.4 580.9,631.0 581.9,630.6 C582.9,630.3 583.9,629.9 584.9,629.6 C585.9,629.2 586.9,628.9 587.9,628.5 C588.9,628.2 589.9,627.8 590.9,627.5 C591.9,627.1 592.9,626.8 593.9,626.5 C594.9,626.1 595.9,625.8 596.9,625.4 C597.9,625.1 598.9,624.7 599.9,624.4 C600.9,624.0 601.9,623.7 602.9,623.3 C603.9,623.0 604.9,622.6 605.9,622.3 C606.9,621.9 607.9,621.6 608.9,621.2 C609.9,620.9 610.9,620.5 611.9,620.2 C612.9,619.8 613.9,619.4 614.9,619.1 C615.9,618.7 616.9,618.4 617.9,618.0 C618.9,617.6 619.9,617.2 620.9,616.9 C621.9,616.5 622.9,616.1 623.9,615.7 C624.9,615.3 625.9,614.9 626.9,614.5 C627.9,614.1 628.9,613.7 629.9,613.3 C630.9,612.9 631.9,612.5 632.9,612.1 C633.9,611.7 634.9,611.2 635.9,610.8 C636.9,610.4 637.9,609.9 638.9,609.5 C639.9,609.1 640.9,608.6 641.9,608.2 C642.9,607.7 643.9,607.3 644.9,606.8 C645.9,606.4 646.9,605.9 647.9,605.4 C648.9,605.0 649.9,604.5 650.9,604.0 C651.9,603.5 652.9,603.0 653.9,602.5 C654.9,602.0 655.9,601.5 656.9,601.0 C657.9,600.5 658.9,600.0 659.9,599.5 C660.9,598.9 661.9,598.4 662.9,597.9 C663.9,597.3 664.9,596.8 665.9,596.2 C666.9,595.7 667.9,595.1 668.9,594.6 C669.9,594.0 670.9,593.4 671.9,592.9 C672.9,592.3 673.9,591.7 674.9,591.1 C675.9,590.5 676.9,589.9 677.9,589.4 C678.9,588.8 679.9,588.1 680.9,587.5 C681.9,586.9 682.9,586.3 683.9,585.7 C684.9,585.1 685.9,584.5 686.9,583.8 C687.9,583.2 688.9,582.6 689.9,582.0 C690.9,581.3 691.9,580.7 692.9,580.0 C693.9,579.4 694.9,578.8 695.9,578.1 C696.9,577.5 697.9,576.8 698.9,576.1 C699.9,575.5 700.9,574.8 701.9,574.2 C702.9,573.5 703.9,572.8 704.9,572.2 C705.9,571.5 706.9,570.8 707.9,570.2 C708.9,569.5 709.9,568.8 710.9,568.1 C711.9,567.5 712.9,566.8 713.9,566.1 C714.9,565.4 715.9,564.7 716.9,564.0 C717.9,563.3 718.9,562.6 719.9,561.9 C720.9,561.2 721.9,560.5 722.9,559.8 C723.9,559.1 724.9,558.4 725.9,557.7 C726.9,557.0 727.9,556.3 728.9,555.6 C729.9,554.9 730.9,554.1 731.9,553.4 C732.9,552.7 733.9,552.0 734.9,551.3 C735.9,550.5 736.9,549.8 737.9,549.1 C738.9,548.4 739.9,547.6 740.9,546.9 C741.9,546.1 742.9,545.4 743.9,544.7 C744.9,543.9 745.9,543.2 746.9,542.5 C747.9,541.7 748.9,541.0 749.9,540.2 C750.9,539.5 751.9,538.8 752.9,538.0 C753.9,537.3 754.9,536.6 755.9,535.8 C756.9,535.1 757.9,534.4 758.9,533.7 C759.9,532.9 760.9,532.2 761.9,531.5 C762.9,530.8 763.9,530.1 764.9,529.4 C765.9,528.7 766.9,528.0 767.9,527.3 C768.9,526.6 769.9,525.9 770.9,525.3 C771.9,524.6 772.9,523.9 773.9,523.3 C774.9,522.6 775.9,522.0 776.9,521.4 C777.9,520.7 778.9,520.1 779.9,519.5 C780.9,518.9 781.9,518.3 782.9,517.7 C783.9,517.1 784.9,516.5 785.9,516.0 C786.9,515.4 787.9,514.8 788.9,514.3 C789.9,513.7 790.9,513.2 791.9,512.7 C792.9,512.2 793.9,511.7 794.9,511.2 C795.9,510.7 796.9,510.2 797.9,509.7 C798.9,509.2 799.9,508.8 800.9,508.3 C801.9,507.9 802.9,507.4 803.9,507.0 C804.9,506.6 805.9,506.1 806.9,505.7 C807.9,505.3 808.9,504.9 809.9,504.5 C810.9,504.2 811.9,503.8 812.9,503.4 C813.9,503.0 814.9,502.7 815.9,502.3 C816.9,502.0 817.9,501.7 818.9,501.3 C819.9,501.0 820.9,500.7 821.9,500.4 C822.9,500.1 823.9,499.8 824.9,499.5 C825.9,499.2 826.9,499.0 827.9,498.7 C828.9,498.5 829.9,498.2 830.9,498.0 C831.9,497.7 832.9,497.5 833.9,497.3 C834.9,497.1 835.9,496.9 836.9,496.7 C837.9,496.5 838.9,496.3 839.9,496.1 C840.9,495.9 841.9,495.8 842.9,495.6 C843.9,495.5 844.9,495.3 845.9,495.2 C846.9,495.0 847.9,494.9 848.9,494.8 C849.9,494.7 850.9,494.6 851.9,494.5 C852.9,494.4 853.9,494.3 854.9,494.3 C855.9,494.2 856.9,494.1 857.9,494.1 C858.9,494.0 859.9,494.0 860.9,493.9 C861.9,493.9 862.9,493.9 863.9,493.8 C864.9,493.8 865.9,493.8 866.9,493.8 C867.9,493.8 868.9,493.8 869.9,493.8 C870.9,493.8 871.9,493.8 872.9,493.8 C873.9,493.8 874.9,493.8 875.9,493.8 C876.9,493.8 877.9,493.8 878.9,493.8 C879.9,493.8 880.9,493.9 881.9,493.9 C882.9,493.9 883.9,493.9 884.9,494.0 C885.9,494.0 886.9,494.0 887.9,494.1 C888.9,494.1 889.9,494.1 890.9,494.2 C891.9,494.2 892.9,494.3 893.9,494.3 C894.9,494.4 895.9,494.4 896.9,494.5 C897.9,494.6 898.9,494.6 899.9,494.7 C900.9,494.8 901.9,494.8 902.9,494.9 C903.9,495.0 904.9,495.1 905.9,495.1 C906.9,495.2 907.9,495.3 908.9,495.4 C909.9,495.5 910.9,495.6 911.9,495.7 C912.9,495.8 913.9,495.9 914.9,496.0 C915.9,496.1 916.9,496.3 917.9,496.4 C918.9,496.5 919.9,496.6 920.9,496.8 C921.9,496.9 922.9,497.0 923.9,497.2 C924.9,497.3 925.9,497.5 926.9,497.6 C927.9,497.8 928.9,497.9 929.9,498.1 C930.9,498.2 931.9,498.4 932.9,498.5 C933.9,498.7 934.9,498.9 935.9,499.1 C936.9,499.2 937.9,499.4 938.9,499.6 C939.9,499.8 940.9,500.0 941.9,500.1 C942.9,500.3 943.9,500.5 944.9,500.7 C945.9,500.9 946.9,501.1 947.9,501.3 C948.9,501.5 949.9,501.8 950.9,502.0 C951.9,502.2 952.9,502.4 953.9,502.6 C954.9,502.8 955.9,503.1 956.9,503.3 C957.9,503.5 958.9,503.7 959.9,504.0 C960.9,504.2 961.9,504.4 962.9,504.7 C963.9,504.9 964.9,505.2 965.9,505.4 C966.9,505.7 967.9,505.9 968.9,506.2 C969.9,506.4 970.9,506.7 971.9,506.9 C972.9,507.2 973.9,507.5 974.9,507.7 C975.9,508.0 976.9,508.3 977.9,508.5 C978.9,508.8 979.9,509.1 980.9,509.3 C981.9,509.6 982.9,509.9 983.9,510.2 C984.9,510.4 985.9,510.7 986.9,511.0 C987.9,511.3 988.9,511.6 989.9,511.9 C990.9,512.1 991.9,512.4 992.9,512.7 C993.9,513.0 994.9,513.3 995.9,513.6 C996.9,513.9 997.9,514.2 998.9,514.5 C999.9,514.8 1000.9,515.1 1001.9,515.4 C1002.9,515.6 1003.9,516.0 1004.9,516.2 C1005.9,516.5 1006.9,516.8 1007.9,517.1 C1008.9,517.5 1009.9,517.8 1010.9,518.1 C1011.9,518.4 1012.9,518.7 1013.9,519.0 C1014.9,519.3 1015.9,519.6 1016.9,519.9 C1017.9,520.2 1018.9,520.5 1019.9,520.8 C1020.9,521.1 1021.9,521.4 1022.9,521.7 C1023.9,522.0 1024.9,522.3 1025.9,522.6 C1026.9,522.9 1027.9,523.2 1028.9,523.5 C1029.9,523.8 1030.9,524.1 1031.9,524.4 C1032.9,524.7 1033.9,525.0 1034.9,525.3 C1035.9,525.6 1036.9,525.9 1037.9,526.2 C1038.9,526.5 1039.9,526.8 1040.9,527.1 C1041.9,527.4 1042.9,527.6 1043.9,527.9 C1044.9,528.2 1045.9,528.5 1046.9,528.8 C1047.9,529.0 1048.9,529.3 1049.9,529.6 C1050.9,529.9 1051.9,530.1 1052.9,530.4 C1053.9,530.7 1054.9,530.9 1055.9,531.2 C1056.9,531.4 1057.9,531.7 1058.9,532.0 C1059.9,532.2 1060.9,532.5 1061.9,532.7 C1062.9,533.0 1063.9,533.2 1064.9,533.5 C1065.9,533.7 1066.9,533.9 1067.9,534.2 C1068.9,534.4 1069.9,534.7 1070.9,534.9 C1071.9,535.1 1072.9,535.4 1073.9,535.6 C1074.9,535.8 1075.9,536.1 1076.9,536.3 C1077.9,536.6 1078.9,536.8 1079.9,537.0 C1080.9,537.3 1081.9,537.5 1082.9,537.7 C1083.9,538.0 1084.9,538.2 1085.9,538.5 C1086.9,538.7 1087.9,538.9 1088.9,539.2 C1089.9,539.4 1090.9,539.6 1091.9,539.9 C1092.9,540.1 1093.9,540.4 1094.9,540.6 C1095.9,540.8 1096.9,541.1 1097.9,541.3 C1098.9,541.6 1099.9,541.8 1100.9,542.1 C1101.9,542.3 1102.9,542.6 1103.9,542.8 C1104.9,543.1 1105.9,543.3 1106.9,543.6 C1107.9,543.8 1108.9,544.1 1109.9,544.4 C1110.9,544.6 1111.9,544.9 1112.9,545.1 C1113.9,545.4 1114.9,545.6 1115.9,545.9 C1116.9,546.1 1117.9,546.4 1118.9,546.6 C1119.9,546.9 1120.9,547.2 1121.9,547.4 C1122.9,547.7 1123.9,547.9 1124.9,548.2 C1125.9,548.4 1126.9,548.7 1127.9,549.0 C1128.9,549.2 1129.9,549.5 1130.9,549.7 C1131.9,550.0 1132.9,550.2 1133.9,550.5 C1134.9,550.7 1135.9,551.0 1136.9,551.2 C1137.9,551.4 1138.9,551.7 1139.9,551.9 C1140.9,552.2 1141.9,552.4 1142.9,552.6 C1143.9,552.9 1144.9,553.1 1145.9,553.4 C1146.9,553.6 1147.9,553.8 1148.9,554.1 C1149.9,554.3 1150.9,554.5 1151.9,554.8 C1152.9,555.0 1153.9,555.2 1154.9,555.4 C1155.9,555.6 1156.9,555.9 1157.9,556.1 C1158.9,556.3 1159.9,556.5 1160.9,556.7 C1161.9,556.9 1162.9,557.2 1163.9,557.4 C1164.9,557.6 1165.9,557.8 1166.9,558.0 C1167.9,558.2 1168.9,558.4 1169.9,558.6 C1170.9,558.8 1171.9,559.0 1172.9,559.2 C1173.9,559.4 1174.9,559.6 1175.9,559.8 C1176.9,559.9 1177.9,560.1 1178.9,560.3 C1179.9,560.5 1180.9,560.7 1181.9,560.9 C1182.9,561.0 1183.9,561.2 1184.9,561.4 C1185.9,561.6 1186.9,561.7 1187.9,561.9 C1188.9,562.1 1189.9,562.2 1190.9,562.4 C1191.9,562.6 1192.9,562.7 1193.9,562.9 C1194.9,563.0 1195.9,563.2 1196.9,563.3 C1197.9,563.5 1198.9,563.6 1199.9,563.8 C1200.9,563.9 1201.9,564.1 1202.9,564.2 C1203.9,564.4 1204.9,564.5 1205.9,564.6 C1206.9,564.8 1207.9,564.9 1208.9,565.0 C1209.9,565.2 1210.9,565.3 1211.9,565.4 C1212.9,565.5 1213.9,565.7 1214.9,565.8 C1215.9,565.9 1216.9,566.0 1217.9,566.1 C1218.9,566.2 1219.9,566.4 1220.9,566.5 C1221.9,566.6 1222.9,566.7 1223.9,566.8 C1224.9,566.9 1225.9,567.0 1226.9,567.1 C1227.9,567.2 1228.9,567.3 1229.9,567.4 C1230.9,567.4 1231.9,567.5 1232.9,567.6 C1233.9,567.7 1234.9,567.8 1235.9,567.9 C1236.9,567.9 1237.9,568.0 1238.9,568.1 C1239.9,568.1 1240.9,568.2 1241.9,568.3 C1242.9,568.3 1243.9,568.4 1244.9,568.5 C1245.9,568.5 1246.9,568.6 1247.9,568.6 C1248.9,568.7 1249.9,568.7 1250.9,568.8 C1251.9,568.8 1252.9,568.9 1253.9,568.9 C1254.9,569.0 1255.9,569.0 1256.9,569.0 C1257.9,569.1 1258.9,569.1 1259.9,569.1 C1260.9,569.1 1261.9,569.2 1262.9,569.2 C1263.9,569.2 1264.9,569.2 1265.9,569.2 C1266.9,569.2 1267.9,569.2 1268.9,569.2 C1269.9,569.2 1270.9,569.2 1271.9,569.2 C1272.9,569.2 1273.9,569.2 1274.9,569.2 C1275.9,569.2 1276.9,569.2 1277.9,569.2 C1278.9,569.1 1279.9,569.1 1280.9,569.1 C1281.9,569.1 1282.9,569.0 1283.9,569.0 C1284.9,568.9 1285.9,568.9 1286.9,568.9 C1287.9,568.8 1288.9,568.8 1289.9,568.7 C1290.9,568.6 1291.9,568.6 1292.9,568.5 C1293.9,568.5 1294.9,568.4 1295.9,568.3 C1296.9,568.2 1297.9,568.2 1298.9,568.1 C1299.9,568.0 1300.9,567.9 1301.9,567.8 C1302.9,567.7 1303.9,567.6 1304.9,567.5 C1305.9,567.4 1306.9,567.3 1307.9,567.2 C1308.9,567.1 1309.9,566.9 1310.9,566.8 C1311.9,566.7 1312.9,566.6 1313.9,566.4 C1314.9,566.3 1315.9,566.2 1316.9,566.0 C1317.9,565.9 1318.9,565.7 1319.9,565.6 C1320.9,565.4 1321.9,565.2 1322.9,565.1 C1323.9,564.9 1324.9,564.7 1325.9,564.5 C1326.9,564.4 1327.9,564.2 1328.9,564.0 C1329.9,563.8 1330.9,563.6 1331.9,563.4 C1332.9,563.2 1333.9,563.0 1334.9,562.8 C1335.9,562.6 1336.9,562.4 1337.9,562.1 C1338.9,561.9 1339.9,561.7 1340.9,561.4 C1341.9,561.2 1342.9,561.0 1343.9,560.7 C1344.9,560.5 1345.9,560.2 1346.9,560.0 C1347.9,559.7 1348.9,559.4 1349.9,559.1 C1350.9,558.9 1351.9,558.6 1352.9,558.3 C1353.9,558.0 1354.9,557.8 1355.9,557.5 C1356.9,557.2 1357.9,556.9 1358.9,556.6 C1359.9,556.3 1360.9,556.0 1361.9,555.6 C1362.9,555.3 1363.9,555.0 1364.9,554.7 C1365.9,554.4 1366.9,554.0 1367.9,553.7 C1368.9,553.4 1369.9,553.0 1370.9,552.7 C1371.9,552.3 1372.9,552.0 1373.9,551.6 C1374.9,551.3 1375.9,550.9 1376.9,550.5 C1377.9,550.2 1378.9,549.8 1379.9,549.4 C1380.9,549.0 1381.9,548.7 1382.9,548.3 C1383.9,547.9 1384.9,547.5 1385.9,547.1 C1386.9,546.7 1387.9,546.3 1388.9,545.9 C1389.9,545.5 1390.9,545.1 1391.9,544.7 C1392.9,544.3 1393.9,543.8 1394.9,543.4 C1395.9,543.0 1396.9,542.6 1397.9,542.2 C1398.9,541.7 1399.9,541.3 1400.9,540.9 C1401.9,540.5 1402.9,540.0 1403.9,539.6 C1404.9,539.2 1405.9,538.7 1406.9,538.3 C1407.9,537.8 1408.9,537.4 1409.9,537.0 C1410.9,536.5 1411.9,536.1 1412.9,535.6 C1413.9,535.2 1414.9,534.7 1415.9,534.3 C1416.9,533.8 1417.9,533.4 1418.9,532.9 C1419.9,532.5 1420.9,532.0 1421.9,531.6 C1422.9,531.1 1423.9,530.7 1424.9,530.2 C1425.9,529.8 1426.9,529.3 1427.9,528.9 C1428.9,528.4 1429.9,527.9 1430.9,527.5 C1431.9,527.0 1432.9,526.6 1433.9,526.1 C1434.9,525.6 1435.9,525.2 1436.9,524.7 C1437.9,524.2 1438.9,523.8 1439.9,523.3 C1440.9,522.8 1441.9,522.4 1442.9,521.9 C1443.9,521.4 1444.9,521.0 1445.9,520.5 C1446.9,520.0 1447.9,519.5 1448.9,519.1 C1449.9,518.6 1450.9,518.1 1451.9,517.6 C1452.9,517.2 1453.9,516.7 1454.9,516.2 C1455.9,515.7 1456.9,515.2 1457.9,514.7 C1458.9,514.3 1459.9,513.8 1460.9,513.3 C1461.9,512.8 1462.9,512.3 1463.9,511.8 C1464.9,511.3 1465.9,510.8 1466.9,510.3 C1467.9,509.8 1468.9,509.4 1469.9,508.9 C1470.9,508.4 1471.9,507.9 1472.9,507.4 C1473.9,506.9 1474.9,506.4 1475.9,505.9 C1476.9,505.4 1477.9,504.9 1478.9,504.4 C1479.9,503.9 1480.9,503.4 1481.9,502.9 C1482.9,502.4 1483.9,501.9 1484.9,501.4 C1485.9,500.9 1486.9,500.5 1487.9,500.0 C1488.9,499.5 1489.9,499.0 1490.9,498.5 C1491.9,498.0 1492.9,497.6 1493.9,497.1 C1494.9,496.6 1495.9,496.1 1496.9,495.7 C1497.9,495.2 1498.9,494.7 1499.9,494.3 C1500.9,493.8 1501.9,493.4 1502.9,492.9 C1503.9,492.5 1504.9,492.0 1505.9,491.6 C1506.9,491.2 1507.9,490.7 1508.9,490.3 C1509.9,489.9 1510.9,489.5 1511.9,489.0 C1512.9,488.6 1513.9,488.2 1514.9,487.8 C1515.9,487.4 1516.9,487.0 1517.9,486.6 C1518.9,486.2 1519.9,485.8 1520.9,485.5 C1521.9,485.1 1522.9,484.7 1523.9,484.4 C1524.9,484.0 1525.9,483.6 1526.9,483.3 C1527.9,482.9 1528.9,482.6 1529.9,482.3 C1530.9,481.9 1531.9,481.6 1532.9,481.3 C1533.9,481.0 1534.9,480.6 1535.9,480.3 C1536.9,480.0 1537.9,479.7 1538.9,479.4 C1539.9,479.1 1540.9,478.9 1541.9,478.6 C1542.9,478.3 1543.9,478.1 1544.9,477.8 C1545.9,477.5 1546.9,477.3 1547.9,477.1 C1548.9,476.8 1549.9,476.6 1550.9,476.4 C1551.9,476.1 1552.9,475.9 1553.9,475.7 C1554.9,475.5 1555.9,475.3 1556.9,475.1 C1557.9,474.9 1558.9,474.7 1559.9,474.6 C1560.9,474.4 1561.9,474.2 1562.9,474.1 C1563.9,473.9 1564.9,473.8 1565.9,473.6 C1566.9,473.5 1567.9,473.3 1568.9,473.2 C1569.9,473.1 1570.9,473.0 1571.9,472.9 C1572.9,472.8 1573.9,472.7 1574.9,472.6 C1575.9,472.5 1576.9,472.4 1577.9,472.3 C1578.9,472.3 1579.9,472.2 1580.9,472.1 C1581.9,472.1 1582.9,472.0 1583.9,472.0 C1584.9,471.9 1585.9,471.9 1586.9,471.9 C1587.9,471.8 1588.9,471.8 1589.9,471.8 C1590.9,471.8 1591.9,471.8 1592.9,471.8 C1593.9,471.8 1594.9,471.8 1595.9,471.8 C1596.9,471.9 1597.9,471.9 1598.9,471.9 C1599.9,472.0 1600.9,472.0 1601.9,472.0 C1602.9,472.1 1603.9,472.1 1604.9,472.2 C1605.9,472.3 1606.9,472.3 1607.9,472.4 C1608.9,472.5 1609.9,472.6 1610.9,472.7 C1611.9,472.8 1612.9,472.9 1613.9,473.0 C1614.9,473.1 1615.9,473.2 1616.9,473.3 C1617.9,473.4 1618.9,473.5 1619.9,473.6 C1620.9,473.8 1621.9,473.9 1622.9,474.1 C1623.9,474.2 1624.9,474.3 1625.9,474.5 C1626.9,474.6 1627.9,474.8 1628.9,474.9 C1629.9,475.1 1630.9,475.3 1631.9,475.4 C1632.9,475.6 1633.9,475.8 1634.9,476.0 C1635.9,476.1 1636.9,476.3 1637.9,476.5 C1638.9,476.7 1639.9,476.9 1640.9,477.1 C1641.9,477.3 1642.9,477.5 1643.9,477.7 C1644.9,477.9 1645.9,478.1 1646.9,478.3 C1647.9,478.5 1648.9,478.7 1649.9,478.9 C1650.9,479.2 1651.9,479.4 1652.9,479.6 C1653.9,479.8 1654.9,480.1 1655.9,480.3 C1656.9,480.5 1657.9,480.8 1658.9,481.0 C1659.9,481.2 1660.9,481.5 1661.9,481.7 C1662.9,482.0 1663.9,482.2 1664.9,482.5 C1665.9,482.8 1666.9,483.0 1667.9,483.3 C1668.9,483.5 1669.9,483.8 1670.9,484.1 C1671.9,484.4 1672.9,484.6 1673.9,484.9 C1674.9,485.2 1675.9,485.5 1676.9,485.8 C1677.9,486.0 1678.9,486.3 1679.9,486.6 C1680.9,486.9 1681.9,487.2 1682.9,487.5 C1683.9,487.8 1684.9,488.1 1685.9,488.5 C1686.9,488.8 1687.9,489.1 1688.9,489.4 C1689.9,489.7 1690.9,490.1 1691.9,490.4 C1692.9,490.7 1693.9,491.1 1694.9,491.4 C1695.9,491.7 1696.9,492.1 1697.9,492.4 C1698.9,492.8 1699.9,493.1 1700.9,493.5 C1701.9,493.8 1702.9,494.2 1703.9,494.6 C1704.9,494.9 1705.9,495.3 1706.9,495.7 C1707.9,496.0 1708.9,496.4 1709.9,496.8 C1710.9,497.1 1711.9,497.5 1712.9,497.9 C1713.9,498.3 1714.9,498.6 1715.9,499.0 C1716.9,499.4 1717.9,499.8 1718.9,500.2 C1719.9,500.6 1720.9,500.9 1721.9,501.3 C1722.9,501.7 1723.9,502.1 1724.9,502.5 C1725.9,502.9 1726.9,503.3 1727.9,503.6 C1728.9,504.0 1729.9,504.4 1730.9,504.8 C1731.9,505.2 1732.9,505.6 1733.9,506.0 C1734.9,506.4 1735.9,506.8 1736.9,507.1 C1737.9,507.5 1738.9,507.9 1739.9,508.3 C1740.9,508.7 1741.9,509.1 1742.9,509.5 C1743.9,509.8 1744.9,510.2 1745.9,510.6 C1746.9,511.0 1747.9,511.4 1748.9,511.8 C1749.9,512.1 1750.9,512.5 1751.9,512.9 C1752.9,513.3 1753.9,513.7 1754.9,514.0 C1755.9,514.4 1756.9,514.8 1757.9,515.2 C1758.9,515.5 1759.9,515.9 1760.9,516.3 C1761.9,516.7 1762.9,517.1 1763.9,517.4 C1764.9,517.8 1765.9,518.2 1766.9,518.6 C1767.9,518.9 1768.9,519.3 1769.9,519.7 C1770.9,520.1 1771.9,520.4 1772.9,520.8 C1773.9,521.2 1774.9,521.5 1775.9,521.9 C1776.9,522.3 1777.9,522.7 1778.9,523.0 C1779.9,523.4 1780.9,523.8 1781.9,524.1 C1782.9,524.5 1783.9,524.9 1784.9,525.3 C1785.9,525.6 1786.9,526.0 1787.9,526.4 C1788.9,526.8 1789.9,527.1 1790.9,527.5 C1791.9,527.9 1792.9,528.2 1793.9,528.6 C1794.9,529.0 1795.9,529.3 1796.9,529.7 C1797.9,530.1 1798.9,530.4 1799.9,530.8 C1800.9,531.2 1801.9,531.5 1802.9,531.9 C1803.9,532.3 1804.9,532.6 1805.9,533.0 C1806.9,533.4 1807.9,533.7 1808.9,534.1 C1809.9,534.5 1810.9,534.8 1811.9,535.2 C1812.9,535.6 1813.9,535.9 1814.9,536.3 C1815.9,536.6 1816.9,537.0 1817.9,537.4 C1818.9,537.7 1819.9,538.1 1820.9,538.5 C1821.9,538.8 1822.9,539.2 1823.9,539.5 C1824.9,539.9 1825.9,540.3 1826.9,540.6 C1827.9,541.0 1828.9,541.4 1829.9,541.7 C1830.9,542.1 1831.9,542.4 1832.9,542.8 C1833.9,543.1 1834.9,543.5 1835.9,543.9 C1836.9,544.2 1837.9,544.6 1838.9,544.9 C1839.9,545.3 1840.9,545.6 1841.9,546.0 C1842.9,546.4 1843.9,546.7 1844.9,547.1 C1845.9,547.4 1846.9,547.8 1847.9,548.1 C1848.9,548.5 1849.9,548.8 1850.9,549.2 C1851.9,549.5 1852.9,549.9 1853.9,550.2 C1854.9,550.5 1855.9,550.9 1856.9,551.2 C1857.9,551.6 1858.9,551.9 1859.9,552.3 C1860.9,552.6 1861.9,552.9 1862.9,553.3 C1863.9,553.6 1864.9,554.0 1865.9,554.3 C1866.9,554.6 1867.9,554.9 1868.9,555.3 C1869.9,555.6 1870.9,555.9 1871.9,556.3 C1872.9,556.6 1873.9,556.9 1874.9,557.2 C1875.9,557.6 1876.9,557.9 1877.9,558.2 C1878.9,558.5 1879.9,558.9 1880.9,559.2 C1881.9,559.5 1882.9,559.8 1883.9,560.1 C1884.9,560.5 1885.9,560.8 1886.9,561.1 C1887.9,561.4 1888.9,561.7 1889.9,562.0 C1890.9,562.3 1891.9,562.7 1892.9,563.0 C1893.9,563.3 1894.9,563.6 1895.9,563.9 C1896.9,564.2 1897.9,564.5 1898.9,564.8 C1899.9,565.1 1900.9,565.5 1901.9,565.8 C1902.9,566.1 1903.9,566.4 1904.9,566.7 C1905.9,567.0 1907.1,567.4 1907.9,567.6 C1908.8,567.9 1909.7,568.2 1910.0,568.3" fill="none" stroke="#ed7d31" stroke-width="7.5" stroke-linecap="round" stroke-linejoin="round" stroke-dasharray="20.5 26.88" stroke-dashoffset="0.5"/>
<g fill="#000"><circle cx="332.3" cy="679.4" r="3.75"/><circle cx="345.9" cy="679.4" r="3.75"/><circle cx="359.4" cy="679.1" r="3.75"/><circle cx="373.0" cy="678.4" r="3.75"/><circle cx="386.5" cy="677.4" r="3.75"/><circle cx="400.0" cy="676.0" r="3.75"/><circle cx="413.5" cy="674.3" r="3.75"/><circle cx="426.9" cy="672.3" r="3.75"/><circle cx="440.3" cy="670.0" r="3.75"/><circle cx="453.6" cy="667.3" r="3.75"/><circle cx="466.8" cy="664.3" r="3.75"/><circle cx="479.9" cy="661.0" r="3.75"/><circle cx="493.0" cy="657.4" r="3.75"/><circle cx="505.9" cy="653.5" r="3.75"/><circle cx="518.8" cy="649.3" r="3.75"/><circle cx="531.6" cy="644.9" r="3.75"/><circle cx="544.3" cy="640.2" r="3.75"/><circle cx="556.9" cy="635.2" r="3.75"/><circle cx="569.4" cy="630.0" r="3.75"/><circle cx="581.8" cy="624.5" r="3.75"/><circle cx="594.1" cy="618.9" r="3.75"/><circle cx="606.3" cy="613.0" r="3.75"/><circle cx="618.5" cy="607.0" r="3.75"/><circle cx="630.5" cy="600.9" r="3.75"/><circle cx="642.5" cy="594.5" r="3.75"/><circle cx="654.4" cy="588.1" r="3.75"/><circle cx="666.3" cy="581.4" r="3.75"/><circle cx="678.1" cy="574.7" r="3.75"/><circle cx="689.8" cy="567.9" r="3.75"/><circle cx="701.5" cy="561.0" r="3.75"/><circle cx="713.1" cy="554.0" r="3.75"/><circle cx="724.7" cy="547.0" r="3.75"/><circle cx="736.3" cy="539.9" r="3.75"/><circle cx="747.9" cy="532.7" r="3.75"/><circle cx="759.4" cy="525.5" r="3.75"/><circle cx="770.9" cy="518.3" r="3.75"/><circle cx="782.5" cy="511.0" r="3.75"/><circle cx="794.1" cy="503.9" r="3.75"/><circle cx="805.7" cy="496.9" r="3.75"/><circle cx="817.4" cy="489.9" r="3.75"/><circle cx="829.2" cy="483.2" r="3.75"/><circle cx="841.1" cy="476.7" r="3.75"/><circle cx="853.2" cy="470.4" r="3.75"/><circle cx="865.4" cy="464.5" r="3.75"/><circle cx="877.8" cy="459.0" r="3.75"/><circle cx="890.4" cy="453.9" r="3.75"/><circle cx="903.1" cy="449.4" r="3.75"/><circle cx="916.1" cy="445.5" r="3.75"/><circle cx="929.2" cy="442.3" r="3.75"/><circle cx="942.6" cy="440.0" r="3.75"/><circle cx="956.0" cy="438.6" r="3.75"/><circle cx="969.6" cy="438.3" r="3.75"/><circle cx="983.1" cy="439.0" r="3.75"/><circle cx="996.5" cy="440.8" r="3.75"/><circle cx="1009.7" cy="443.6" r="3.75"/><circle cx="1022.6" cy="447.5" r="3.75"/><circle cx="1035.2" cy="452.2" r="3.75"/><circle cx="1047.5" cy="457.9" r="3.75"/><circle cx="1059.4" cy="464.3" r="3.75"/><circle cx="1070.9" cy="471.4" r="3.75"/><circle cx="1082.1" cy="479.1" r="3.75"/><circle cx="1092.9" cy="487.1" r="3.75"/><circle cx="1103.5" cy="495.5" r="3.75"/><circle cx="1113.8" cy="504.3" r="3.75"/><circle cx="1123.9" cy="513.2" r="3.75"/><circle cx="1133.8" cy="522.5" r="3.75"/><circle cx="1143.5" cy="531.9" r="3.75"/><circle cx="1153.1" cy="541.5" r="3.75"/><circle cx="1162.6" cy="551.2" r="3.75"/><circle cx="1172.0" cy="561.1" r="3.75"/><circle cx="1181.3" cy="571.0" r="3.75"/><circle cx="1190.5" cy="580.9" r="3.75"/><circle cx="1199.6" cy="591.0" r="3.75"/><circle cx="1208.8" cy="601.0" r="3.75"/><circle cx="1217.9" cy="611.1" r="3.75"/><circle cx="1227.0" cy="621.2" r="3.75"/><circle cx="1236.2" cy="631.3" r="3.75"/><circle cx="1245.4" cy="641.3" r="3.75"/><circle cx="1254.6" cy="651.3" r="3.75"/><circle cx="1263.8" cy="661.2" r="3.75"/><circle cx="1273.2" cy="671.0" r="3.75"/><circle cx="1282.7" cy="680.8" r="3.75"/><circle cx="1292.3" cy="690.4" r="3.75"/><circle cx="1302.0" cy="699.8" r="3.75"/><circle cx="1311.9" cy="709.1" r="3.75"/><circle cx="1322.0" cy="718.1" r="3.75"/><circle cx="1332.3" cy="726.9" r="3.75"/><circle cx="1342.8" cy="735.4" r="3.75"/><circle cx="1353.6" cy="743.6" r="3.75"/><circle cx="1364.6" cy="751.4" r="3.75"/><circle cx="1376.0" cy="758.7" r="3.75"/><circle cx="1387.7" cy="765.5" r="3.75"/><circle cx="1399.7" cy="771.7" r="3.75"/><circle cx="1412.0" cy="777.3" r="3.75"/><circle cx="1424.6" cy="782.2" r="3.75"/><circle cx="1437.5" cy="786.3" r="3.75"/><circle cx="1450.6" cy="789.7" r="3.75"/><circle cx="1464.0" cy="792.3" r="3.75"/><circle cx="1477.4" cy="794.1" r="3.75"/><circle cx="1490.8" cy="795.1" r="3.75"/><circle cx="1504.3" cy="795.4" r="3.75"/><circle cx="1517.9" cy="795.1" r="3.75"/><circle cx="1531.5" cy="794.4" r="3.75"/><circle cx="1545.0" cy="793.2" r="3.75"/><circle cx="1558.5" cy="791.7" r="3.75"/><circle cx="1571.9" cy="790.1" r="3.75"/><circle cx="1585.4" cy="788.4" r="3.75"/><circle cx="1598.8" cy="786.8" r="3.75"/><circle cx="1612.3" cy="785.2" r="3.75"/><circle cx="1625.8" cy="783.7" r="3.75"/><circle cx="1639.2" cy="782.4" r="3.75"/><circle cx="1652.8" cy="781.4" r="3.75"/><circle cx="1666.3" cy="780.5" r="3.75"/><circle cx="1679.8" cy="780.0" r="3.75"/><circle cx="1693.4" cy="779.9" r="3.75"/><circle cx="1706.9" cy="780.1" r="3.75"/><circle cx="1720.5" cy="780.8" r="3.75"/><circle cx="1734.0" cy="781.8" r="3.75"/><circle cx="1747.5" cy="783.2" r="3.75"/><circle cx="1761.0" cy="784.9" r="3.75"/><circle cx="1774.4" cy="787.0" r="3.75"/><circle cx="1787.8" cy="789.4" r="3.75"/><circle cx="1801.1" cy="792.1" r="3.75"/><circle cx="1814.3" cy="795.1" r="3.75"/><circle cx="1827.5" cy="798.3" r="3.75"/><circle cx="1840.6" cy="801.8" r="3.75"/><circle cx="1853.6" cy="805.5" r="3.75"/><circle cx="1866.5" cy="809.5" r="3.75"/><circle cx="1879.4" cy="813.7" r="3.75"/><circle cx="1892.1" cy="818.0" r="3.75"/><circle cx="1904.8" cy="822.5" r="3.75"/></g>
</g>
</svg>
</body></html>
